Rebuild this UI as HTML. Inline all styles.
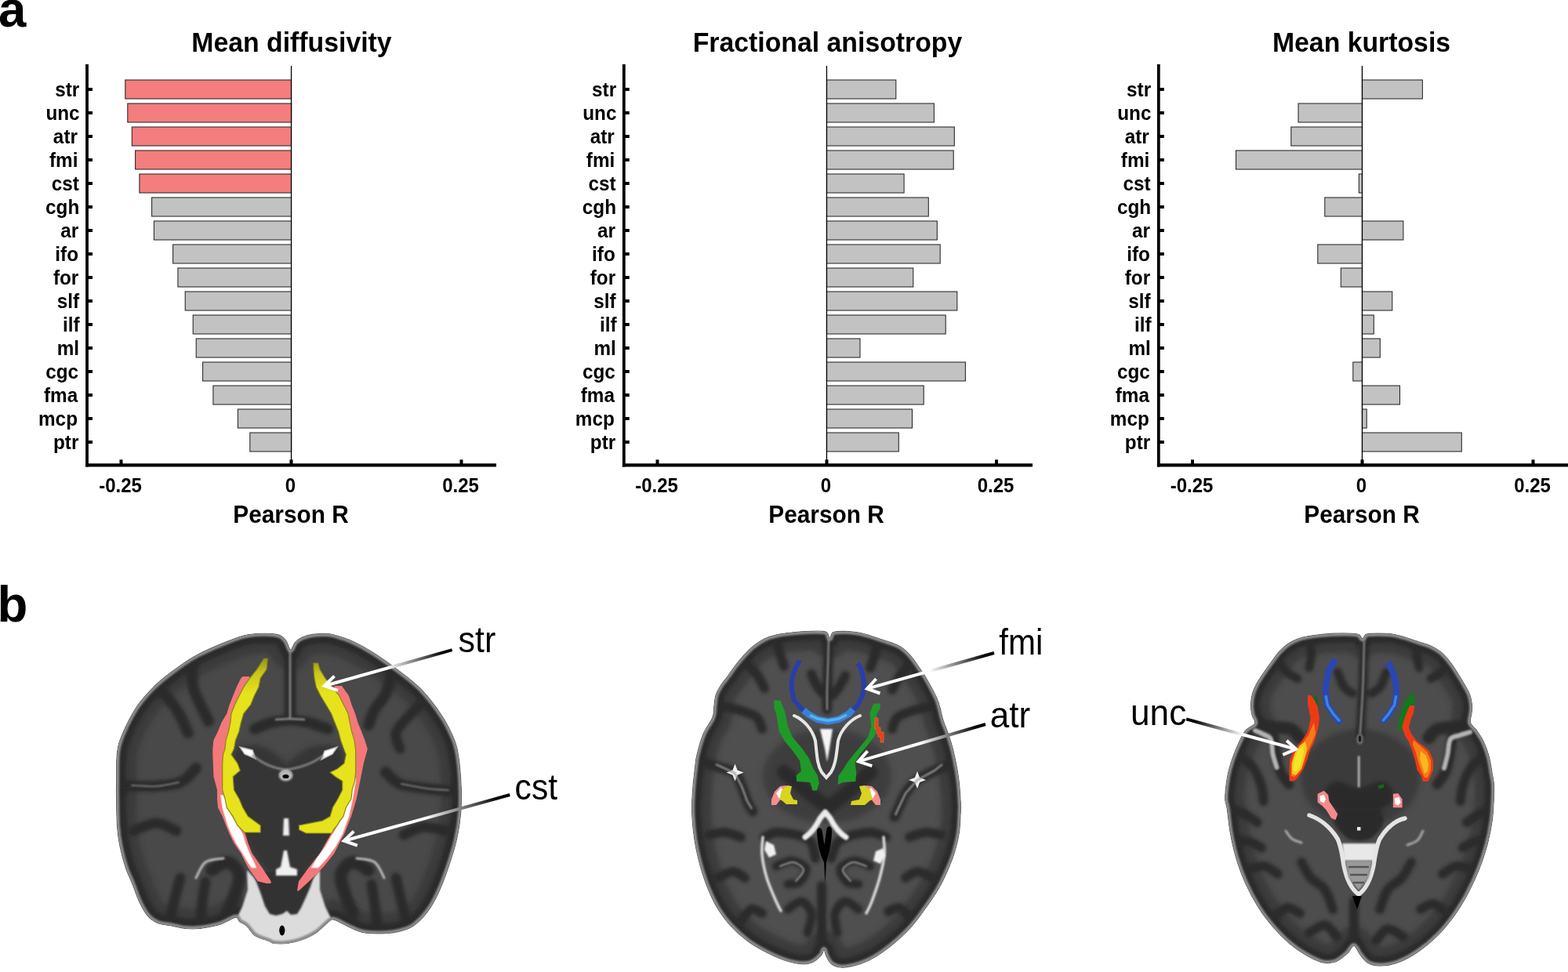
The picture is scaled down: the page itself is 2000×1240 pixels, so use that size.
<!DOCTYPE html>
<html lang="en"><head><meta charset="utf-8"><title>Figure</title>
<style>
html,body{margin:0;padding:0;background:#fff;}
body{width:2000px;height:1240px;overflow:hidden;position:relative;}
svg{position:absolute;left:0;top:0;display:block;}
text{font-family:"Liberation Sans",sans-serif;fill:#000;}
.yl{font-size:24.3px;font-weight:bold;text-anchor:middle;}
.xl{font-size:24px;font-weight:bold;text-anchor:middle;}
.ti{font-size:33.8px;font-weight:bold;text-anchor:middle;}
.pr{font-size:29.8px;font-weight:bold;text-anchor:middle;}
.pl{font-size:63.5px;font-weight:bold;}
.an{font-size:44px;}
</style></head>
<body>
<svg width="2000" height="1240" viewBox="0 0 2000 1240" role="img" aria-label="Figure">
<defs>
<filter id="b1" x="-20%" y="-20%" width="140%" height="140%"><feGaussianBlur stdDeviation="1"/></filter>
<filter id="b2" x="-20%" y="-20%" width="140%" height="140%"><feGaussianBlur stdDeviation="2"/></filter>
<filter id="b3" x="-30%" y="-30%" width="160%" height="160%"><feGaussianBlur stdDeviation="3.5"/></filter>
<linearGradient id="yg" gradientUnits="userSpaceOnUse" x1="0" y1="838" x2="0" y2="884"><stop offset="0" stop-color="#8e8c16"/><stop offset="0.45" stop-color="#c9c61a"/><stop offset="1" stop-color="#e6e21c"/></linearGradient>
<filter id="b05" x="-20%" y="-20%" width="140%" height="140%"><feGaussianBlur stdDeviation="0.6"/></filter>
<linearGradient id="ag1" gradientUnits="userSpaceOnUse" x1="576.7" y1="829.1" x2="410.3" y2="876.0"><stop offset="0" stop-color="#000"/><stop offset="0.08" stop-color="#080808"/><stop offset="0.29" stop-color="#808080"/><stop offset="0.5" stop-color="#fff"/><stop offset="1" stop-color="#fff"/></linearGradient>
<linearGradient id="ag2" gradientUnits="userSpaceOnUse" x1="650.3" y1="1014.0" x2="435.2" y2="1073.7"><stop offset="0" stop-color="#000"/><stop offset="0.08" stop-color="#080808"/><stop offset="0.29" stop-color="#808080"/><stop offset="0.5" stop-color="#fff"/><stop offset="1" stop-color="#fff"/></linearGradient>
<clipPath id="clip1"><path d="M370.5 829.0C372.6 829.5 374.1 821.9 376.6 819.3C379.1 816.6 381.6 814.8 385.5 813.1C389.4 811.4 394.4 810.0 399.7 809.2C405.0 808.5 412.4 808.3 417.4 808.6C422.4 808.9 424.5 809.4 429.8 811.0C435.1 812.6 442.0 814.6 449.4 818.0C456.8 821.4 465.0 825.8 474.2 831.5C483.4 837.2 494.0 844.7 504.4 852.5C514.8 860.3 526.4 868.4 536.3 878.5C546.1 888.6 556.3 902.1 563.5 913.0C570.7 923.9 575.9 934.9 579.5 944.0C583.1 953.1 583.7 958.1 585.1 967.4C586.5 976.7 587.5 988.6 588.0 1000.0C588.5 1011.4 588.7 1023.7 587.8 1035.5C586.9 1047.3 585.1 1059.2 582.4 1071.0C579.7 1082.8 575.6 1095.3 571.8 1106.5C568.0 1117.7 563.8 1129.0 559.4 1138.4C555.0 1147.9 550.5 1156.1 545.2 1163.2C539.9 1170.3 533.3 1176.8 527.4 1181.0C521.5 1185.2 515.6 1186.5 509.7 1188.1C503.8 1189.7 499.3 1190.4 491.9 1190.7C484.5 1191.0 472.4 1190.9 465.3 1189.9C458.2 1188.9 454.4 1186.6 449.4 1184.5C444.4 1182.4 439.3 1179.3 435.2 1177.4C431.1 1175.5 427.5 1173.0 424.5 1173.0C421.5 1173.0 420.9 1174.6 417.4 1177.4C413.8 1180.2 408.5 1186.4 403.2 1189.9C397.9 1193.5 391.4 1196.5 385.5 1198.7C379.6 1200.9 373.6 1202.4 367.7 1203.2C361.8 1204.0 354.1 1204.0 350.0 1203.5C345.9 1203.0 347.0 1202.2 342.9 1200.5C338.8 1198.8 329.9 1196.7 325.2 1193.4C320.5 1190.2 317.8 1184.0 314.5 1181.0C311.2 1178.0 308.1 1177.5 305.7 1175.7C303.3 1173.9 304.4 1169.7 300.3 1170.3C296.2 1170.9 288.5 1176.8 280.8 1179.2C273.1 1181.6 261.6 1183.6 254.2 1184.5C246.8 1185.4 242.4 1185.1 236.5 1184.5C230.6 1183.9 224.6 1182.2 218.7 1181.0C212.8 1179.8 206.0 1179.5 201.0 1177.4C196.0 1175.3 192.4 1173.0 188.6 1168.6C184.8 1164.2 181.2 1157.6 177.9 1150.8C174.6 1144.0 171.9 1135.2 169.0 1127.8C166.1 1120.4 162.8 1114.5 160.2 1106.5C157.5 1098.5 154.9 1088.7 153.1 1079.8C151.3 1070.9 150.2 1063.5 149.5 1053.2C148.8 1042.9 148.8 1026.6 148.6 1017.7C148.4 1008.8 148.4 1009.6 148.6 1000.0C148.8 990.4 148.2 971.0 149.5 960.3C150.8 949.5 152.4 945.2 156.6 935.5C160.8 925.8 167.9 911.6 174.4 901.8C180.9 892.0 188.8 883.8 195.6 876.9C202.4 870.0 206.6 866.6 215.2 860.1C223.8 853.6 234.7 844.9 247.1 837.9C259.5 830.9 277.9 823.1 289.7 818.4C301.5 813.7 307.8 811.0 318.1 809.5C328.5 808.0 344.1 808.0 351.8 809.2C359.5 810.4 361.1 813.3 364.2 816.6C367.3 819.9 368.4 828.5 370.5 829.0Z"/></clipPath>
<linearGradient id="ag3" gradientUnits="userSpaceOnUse" x1="1268.0" y1="833.0" x2="1102.5" y2="879.7"><stop offset="0" stop-color="#000"/><stop offset="0.08" stop-color="#080808"/><stop offset="0.29" stop-color="#808080"/><stop offset="0.5" stop-color="#fff"/><stop offset="1" stop-color="#fff"/></linearGradient>
<linearGradient id="ag4" gradientUnits="userSpaceOnUse" x1="1257.0" y1="924.0" x2="1091.4" y2="972.4"><stop offset="0" stop-color="#000"/><stop offset="0.08" stop-color="#080808"/><stop offset="0.29" stop-color="#808080"/><stop offset="0.5" stop-color="#fff"/><stop offset="1" stop-color="#fff"/></linearGradient>
<clipPath id="clip2"><path d="M1058.3 814.5C1060.0 814.6 1059.4 808.0 1063.0 806.5C1066.6 805.0 1074.7 805.4 1080.0 805.5C1085.3 805.6 1090.0 806.1 1095.0 807.0C1100.0 807.9 1105.0 809.5 1110.0 811.0C1115.0 812.5 1120.0 814.3 1125.0 816.0C1130.0 817.7 1135.8 819.3 1140.0 821.0C1144.2 822.7 1146.7 823.7 1150.0 826.0C1153.3 828.3 1156.7 831.3 1160.0 835.0C1163.3 838.7 1166.7 843.3 1170.0 848.0C1173.3 852.7 1177.0 858.2 1180.0 863.0C1183.0 867.8 1185.5 872.3 1188.0 877.0C1190.5 881.7 1193.2 886.7 1195.0 891.0C1196.8 895.3 1197.7 898.3 1199.0 903.0C1200.3 907.7 1201.2 913.2 1203.0 919.0C1204.8 924.8 1208.0 931.6 1210.1 938.0C1212.2 944.4 1214.0 950.2 1215.8 957.2C1217.5 964.2 1219.3 973.0 1220.6 980.0C1221.9 987.0 1222.6 991.5 1223.4 999.0C1224.2 1006.5 1225.0 1019.2 1225.3 1025.0C1225.6 1030.8 1225.6 1027.3 1225.3 1033.5C1225.0 1039.7 1224.7 1053.1 1223.4 1062.0C1222.1 1070.9 1220.2 1078.5 1217.7 1086.7C1215.2 1094.9 1211.7 1103.5 1208.2 1111.4C1204.7 1119.3 1201.2 1126.6 1196.8 1134.2C1192.4 1141.8 1187.0 1149.4 1181.6 1157.0C1176.2 1164.6 1170.5 1172.8 1164.5 1179.8C1158.5 1186.8 1151.8 1193.1 1145.5 1198.8C1139.2 1204.5 1132.8 1209.6 1126.5 1214.0C1120.2 1218.4 1113.8 1222.4 1107.5 1225.4C1101.2 1228.4 1094.5 1230.7 1088.5 1232.1C1082.5 1233.5 1076.2 1234.5 1071.4 1234.0C1066.7 1233.5 1062.9 1231.6 1060.0 1229.2C1057.1 1226.8 1055.5 1222.7 1054.0 1219.7C1052.5 1216.8 1052.1 1211.7 1051.0 1211.5C1049.9 1211.3 1050.1 1215.8 1047.5 1218.5C1044.9 1221.2 1040.2 1226.2 1035.5 1228.0C1030.8 1229.8 1025.8 1230.2 1019.6 1229.5C1013.4 1228.8 1005.6 1226.8 998.0 1224.0C990.4 1221.2 981.5 1217.0 974.0 1213.0C966.5 1209.0 960.0 1205.3 953.0 1200.0C946.0 1194.7 938.2 1187.7 932.0 1181.0C925.8 1174.3 920.7 1167.5 916.0 1160.0C911.3 1152.5 907.6 1144.4 904.0 1136.0C900.4 1127.6 897.3 1118.3 894.6 1109.5C891.9 1100.7 889.8 1091.9 888.0 1083.0C886.2 1074.1 884.9 1064.9 884.0 1056.0C883.1 1047.1 882.6 1038.5 882.6 1029.7C882.6 1020.9 883.3 1011.5 884.0 1003.0C884.7 994.5 885.8 985.7 886.6 979.0C887.4 972.3 887.3 970.1 889.0 963.0C890.7 955.9 893.7 944.6 897.0 936.6C900.3 928.6 906.7 921.1 909.0 915.0C911.3 908.9 910.3 904.7 911.0 900.0C911.7 895.3 911.7 891.2 913.0 887.0C914.3 882.8 916.5 879.0 919.0 875.0C921.5 871.0 924.8 867.3 928.0 863.0C931.2 858.7 934.7 853.3 938.0 849.0C941.3 844.7 944.3 841.0 948.0 837.0C951.7 833.0 955.5 828.7 960.0 825.0C964.5 821.3 970.0 817.5 975.0 815.0C980.0 812.5 984.2 811.3 990.0 810.0C995.8 808.7 1003.3 807.8 1010.0 807.0C1016.7 806.2 1022.8 805.7 1030.0 805.5C1037.2 805.3 1048.3 804.5 1053.0 806.0C1057.7 807.5 1056.6 814.4 1058.3 814.5Z"/></clipPath>
<radialGradient id="ug1" gradientUnits="userSpaceOnUse" cx="1655" cy="975" r="24" gradientTransform="translate(1655 975) rotate(20) scale(0.55 1) translate(-1655 -975)"><stop offset="0" stop-color="#f6ec20"/><stop offset="0.45" stop-color="#f8d020"/><stop offset="0.75" stop-color="#f88a18"/><stop offset="1" stop-color="#ee3a14"/></radialGradient>
<radialGradient id="ug2" gradientUnits="userSpaceOnUse" cx="1817" cy="978" r="20" gradientTransform="translate(1817 978) rotate(-20) scale(0.5 1) translate(-1817 -978)"><stop offset="0" stop-color="#fbd428"/><stop offset="0.5" stop-color="#f8941a"/><stop offset="1" stop-color="#ee3a14"/></radialGradient>
<linearGradient id="ag5" gradientUnits="userSpaceOnUse" x1="1513.1" y1="917.4" x2="1656.6" y2="956.6"><stop offset="0" stop-color="#000"/><stop offset="0.08" stop-color="#080808"/><stop offset="0.29" stop-color="#808080"/><stop offset="0.5" stop-color="#fff"/><stop offset="1" stop-color="#fff"/></linearGradient>
<clipPath id="clip3"><path d="M1738.2 815.0C1739.9 814.9 1739.4 810.1 1743.0 809.0C1746.6 807.9 1754.5 808.2 1760.0 808.2C1765.5 808.2 1770.7 808.2 1776.0 809.0C1781.3 809.8 1786.3 811.3 1792.0 813.0C1797.7 814.7 1804.5 817.2 1810.0 819.0C1815.5 820.8 1820.3 821.8 1825.0 824.0C1829.7 826.2 1833.8 828.5 1838.0 832.0C1842.2 835.5 1846.3 840.3 1850.0 845.0C1853.7 849.7 1856.8 855.0 1860.0 860.0C1863.2 865.0 1866.5 870.5 1869.0 875.0C1871.5 879.5 1873.6 882.8 1875.0 887.0C1876.4 891.2 1877.2 896.2 1877.5 900.0C1877.8 903.8 1877.3 906.3 1877.0 910.0C1876.7 913.7 1874.3 918.1 1875.5 922.0C1876.7 925.9 1881.6 929.0 1884.4 933.1C1887.2 937.2 1890.0 941.2 1892.5 946.6C1895.0 952.0 1897.5 958.8 1899.3 965.5C1901.1 972.3 1902.3 981.4 1903.3 987.1C1904.3 992.9 1905.1 995.1 1905.4 1000.0C1905.7 1004.9 1905.8 1009.1 1905.4 1016.8C1905.1 1024.5 1904.7 1036.0 1903.3 1046.2C1901.9 1056.4 1899.8 1067.2 1897.0 1077.7C1894.2 1088.2 1890.7 1098.7 1886.5 1109.2C1882.3 1119.7 1877.0 1130.9 1871.8 1140.7C1866.5 1150.5 1861.3 1159.2 1855.0 1168.0C1848.7 1176.8 1841.7 1185.5 1834.0 1193.2C1826.3 1200.9 1817.2 1208.4 1808.8 1214.2C1800.4 1220.0 1791.3 1224.8 1783.6 1227.8C1775.9 1230.8 1768.9 1231.8 1762.6 1232.0C1756.3 1232.2 1750.3 1231.2 1745.8 1228.9C1741.2 1226.6 1738.4 1222.1 1735.3 1218.4C1732.2 1214.7 1729.7 1206.8 1726.9 1206.5C1724.1 1206.2 1722.3 1212.9 1718.5 1216.3C1714.7 1219.7 1709.0 1224.9 1703.8 1226.8C1698.5 1228.7 1693.3 1229.2 1687.0 1227.8C1680.7 1226.4 1673.0 1222.4 1666.0 1218.4C1659.0 1214.4 1652.0 1209.7 1645.0 1203.7C1638.0 1197.8 1630.7 1190.4 1624.0 1182.7C1617.3 1175.0 1611.0 1167.0 1605.1 1157.5C1599.1 1148.0 1593.0 1136.5 1588.3 1126.0C1583.6 1115.5 1579.8 1105.0 1576.7 1094.5C1573.6 1084.0 1571.3 1073.5 1569.4 1063.0C1567.5 1052.5 1566.3 1038.7 1565.2 1031.5C1564.1 1024.3 1563.0 1025.2 1562.8 1020.0C1562.6 1014.8 1563.3 1006.8 1564.2 1000.0C1565.1 993.2 1566.3 986.5 1568.4 979.0C1570.5 971.5 1573.5 962.9 1576.8 955.2C1580.1 947.5 1584.0 938.2 1588.0 932.8C1592.0 927.4 1599.1 926.5 1600.6 923.0C1602.1 919.5 1597.8 915.8 1597.0 912.0C1596.2 908.2 1595.4 904.5 1595.5 900.0C1595.6 895.5 1596.2 889.7 1597.5 885.0C1598.8 880.3 1600.6 876.5 1603.0 872.0C1605.4 867.5 1608.8 862.7 1612.0 858.0C1615.2 853.3 1618.7 848.5 1622.0 844.0C1625.3 839.5 1628.2 835.0 1632.0 831.0C1635.8 827.0 1640.3 822.9 1645.0 820.0C1649.7 817.1 1654.2 815.2 1660.0 813.5C1665.8 811.8 1673.3 810.9 1680.0 810.0C1686.7 809.1 1693.3 808.5 1700.0 808.2C1706.7 807.9 1714.5 807.8 1720.0 808.0C1725.5 808.2 1730.0 808.3 1733.0 809.5C1736.0 810.7 1736.5 815.1 1738.2 815.0Z"/></clipPath>
</defs>
<text class="pl" transform="translate(-2.1 34.2) scale(1.000 1.030)">a</text>
<text class="pl" transform="translate(-3.4 793.4) scale(1.000 1.030)">b</text>
<g id="chart1">
<text class="ti" transform="translate(372.0 66.2) scale(1.000 1.040)">Mean diffusivity</text>
<rect x="159.8" y="102.0" width="211.7" height="24.0" fill="#f47d7d" stroke="#262626" stroke-width="1.05"/>
<rect x="111.0" y="112.0" width="7" height="4" fill="#000"/>
<text class="yl" transform="translate(85.8 122.7) scale(1.000 1.040)">str</text>
<rect x="162.8" y="132.0" width="208.8" height="24.0" fill="#f47d7d" stroke="#262626" stroke-width="1.05"/>
<rect x="111.0" y="142.0" width="7" height="4" fill="#000"/>
<text class="yl" transform="translate(80.0 152.7) scale(1.000 1.040)">unc</text>
<rect x="168.3" y="162.0" width="203.2" height="24.0" fill="#f47d7d" stroke="#262626" stroke-width="1.05"/>
<rect x="111.0" y="172.0" width="7" height="4" fill="#000"/>
<text class="yl" transform="translate(83.4 182.7) scale(1.000 1.040)">atr</text>
<rect x="172.6" y="192.0" width="198.9" height="24.0" fill="#f47d7d" stroke="#262626" stroke-width="1.05"/>
<rect x="111.0" y="202.0" width="7" height="4" fill="#000"/>
<text class="yl" transform="translate(81.2 212.7) scale(1.000 1.040)">fmi</text>
<rect x="177.9" y="222.0" width="193.6" height="24.0" fill="#f47d7d" stroke="#262626" stroke-width="1.05"/>
<rect x="111.0" y="232.0" width="7" height="4" fill="#000"/>
<text class="yl" transform="translate(83.3 242.7) scale(1.000 1.040)">cst</text>
<rect x="193.6" y="252.0" width="177.9" height="24.0" fill="#c2c2c2" stroke="#262626" stroke-width="1.05"/>
<rect x="111.0" y="262.0" width="7" height="4" fill="#000"/>
<text class="yl" transform="translate(79.7 272.7) scale(1.000 1.040)">cgh</text>
<rect x="196.4" y="282.0" width="175.1" height="24.0" fill="#c2c2c2" stroke="#262626" stroke-width="1.05"/>
<rect x="111.0" y="292.0" width="7" height="4" fill="#000"/>
<text class="yl" transform="translate(88.8 302.7) scale(1.000 1.040)">ar</text>
<rect x="220.6" y="312.0" width="150.9" height="24.0" fill="#c2c2c2" stroke="#262626" stroke-width="1.05"/>
<rect x="111.0" y="322.0" width="7" height="4" fill="#000"/>
<text class="yl" transform="translate(85.2 332.7) scale(1.000 1.040)">ifo</text>
<rect x="226.9" y="342.0" width="144.6" height="24.0" fill="#c2c2c2" stroke="#262626" stroke-width="1.05"/>
<rect x="111.0" y="352.0" width="7" height="4" fill="#000"/>
<text class="yl" transform="translate(84.1 362.7) scale(1.000 1.040)">for</text>
<rect x="236.2" y="372.0" width="135.3" height="24.0" fill="#c2c2c2" stroke="#262626" stroke-width="1.05"/>
<rect x="111.0" y="382.0" width="7" height="4" fill="#000"/>
<text class="yl" transform="translate(86.8 392.7) scale(1.000 1.040)">slf</text>
<rect x="246.2" y="402.0" width="125.2" height="24.0" fill="#c2c2c2" stroke="#262626" stroke-width="1.05"/>
<rect x="111.0" y="412.0" width="7" height="4" fill="#000"/>
<text class="yl" transform="translate(90.9 422.7) scale(1.000 1.040)">ilf</text>
<rect x="250.2" y="432.0" width="121.2" height="24.0" fill="#c2c2c2" stroke="#262626" stroke-width="1.05"/>
<rect x="111.0" y="442.0" width="7" height="4" fill="#000"/>
<text class="yl" transform="translate(86.8 452.7) scale(1.000 1.040)">ml</text>
<rect x="258.6" y="462.0" width="112.9" height="24.0" fill="#c2c2c2" stroke="#262626" stroke-width="1.05"/>
<rect x="111.0" y="472.0" width="7" height="4" fill="#000"/>
<text class="yl" transform="translate(79.1 482.7) scale(1.000 1.040)">cgc</text>
<rect x="271.9" y="492.0" width="99.6" height="24.0" fill="#c2c2c2" stroke="#262626" stroke-width="1.05"/>
<rect x="111.0" y="502.0" width="7" height="4" fill="#000"/>
<text class="yl" transform="translate(77.6 512.7) scale(1.000 1.040)">fma</text>
<rect x="303.4" y="522.0" width="68.1" height="24.0" fill="#c2c2c2" stroke="#262626" stroke-width="1.05"/>
<rect x="111.0" y="532.0" width="7" height="4" fill="#000"/>
<text class="yl" transform="translate(74.0 542.7) scale(1.000 1.040)">mcp</text>
<rect x="318.8" y="552.0" width="52.8" height="24.0" fill="#c2c2c2" stroke="#262626" stroke-width="1.05"/>
<rect x="111.0" y="562.0" width="7" height="4" fill="#000"/>
<text class="yl" transform="translate(84.2 572.7) scale(1.000 1.040)">ptr</text>
<rect x="370.9" y="84.0" width="1.3" height="509.4" fill="#000"/>
<rect x="109.1" y="82.0" width="3.8" height="513.5" fill="#000"/>
<rect x="109.1" y="591.3" width="523.9" height="4.2" fill="#000"/>
<rect x="152.5" y="586.4" width="4" height="7" fill="#000"/>
<text class="xl" transform="translate(153.5 627.7) scale(1.000 1.040)">-0.25</text>
<rect x="369.5" y="586.4" width="4" height="7" fill="#000"/>
<text class="xl" transform="translate(370.5 627.7) scale(1.000 1.040)">0</text>
<rect x="586.5" y="586.4" width="4" height="7" fill="#000"/>
<text class="xl" transform="translate(587.5 627.7) scale(1.000 1.040)">0.25</text>
<text class="pr" transform="translate(371.0 667.3) scale(1.000 1.040)">Pearson R</text>
</g>
<g id="chart2">
<text class="ti" transform="translate(1055.5 66.2) scale(1.000 1.040)">Fractional anisotropy</text>
<rect x="1054.5" y="102.0" width="88.3" height="24.0" fill="#c2c2c2" stroke="#262626" stroke-width="1.05"/>
<rect x="795.8" y="112.0" width="7" height="4" fill="#000"/>
<text class="yl" transform="translate(770.6 122.7) scale(1.000 1.040)">str</text>
<rect x="1054.5" y="132.0" width="136.9" height="24.0" fill="#c2c2c2" stroke="#262626" stroke-width="1.05"/>
<rect x="795.8" y="142.0" width="7" height="4" fill="#000"/>
<text class="yl" transform="translate(764.8 152.7) scale(1.000 1.040)">unc</text>
<rect x="1054.5" y="162.0" width="162.8" height="24.0" fill="#c2c2c2" stroke="#262626" stroke-width="1.05"/>
<rect x="795.8" y="172.0" width="7" height="4" fill="#000"/>
<text class="yl" transform="translate(768.2 182.7) scale(1.000 1.040)">atr</text>
<rect x="1054.5" y="192.0" width="161.7" height="24.0" fill="#c2c2c2" stroke="#262626" stroke-width="1.05"/>
<rect x="795.8" y="202.0" width="7" height="4" fill="#000"/>
<text class="yl" transform="translate(766.0 212.7) scale(1.000 1.040)">fmi</text>
<rect x="1054.5" y="222.0" width="98.6" height="24.0" fill="#c2c2c2" stroke="#262626" stroke-width="1.05"/>
<rect x="795.8" y="232.0" width="7" height="4" fill="#000"/>
<text class="yl" transform="translate(768.1 242.7) scale(1.000 1.040)">cst</text>
<rect x="1054.5" y="252.0" width="129.8" height="24.0" fill="#c2c2c2" stroke="#262626" stroke-width="1.05"/>
<rect x="795.8" y="262.0" width="7" height="4" fill="#000"/>
<text class="yl" transform="translate(764.4 272.7) scale(1.000 1.040)">cgh</text>
<rect x="1054.5" y="282.0" width="140.8" height="24.0" fill="#c2c2c2" stroke="#262626" stroke-width="1.05"/>
<rect x="795.8" y="292.0" width="7" height="4" fill="#000"/>
<text class="yl" transform="translate(773.6 302.7) scale(1.000 1.040)">ar</text>
<rect x="1054.5" y="312.0" width="144.7" height="24.0" fill="#c2c2c2" stroke="#262626" stroke-width="1.05"/>
<rect x="795.8" y="322.0" width="7" height="4" fill="#000"/>
<text class="yl" transform="translate(769.9 332.7) scale(1.000 1.040)">ifo</text>
<rect x="1054.5" y="342.0" width="110.3" height="24.0" fill="#c2c2c2" stroke="#262626" stroke-width="1.05"/>
<rect x="795.8" y="352.0" width="7" height="4" fill="#000"/>
<text class="yl" transform="translate(768.9 362.7) scale(1.000 1.040)">for</text>
<rect x="1054.5" y="372.0" width="166.3" height="24.0" fill="#c2c2c2" stroke="#262626" stroke-width="1.05"/>
<rect x="795.8" y="382.0" width="7" height="4" fill="#000"/>
<text class="yl" transform="translate(771.5 392.7) scale(1.000 1.040)">slf</text>
<rect x="1054.5" y="402.0" width="151.7" height="24.0" fill="#c2c2c2" stroke="#262626" stroke-width="1.05"/>
<rect x="795.8" y="412.0" width="7" height="4" fill="#000"/>
<text class="yl" transform="translate(775.7 422.7) scale(1.000 1.040)">ilf</text>
<rect x="1054.5" y="432.0" width="42.5" height="24.0" fill="#c2c2c2" stroke="#262626" stroke-width="1.05"/>
<rect x="795.8" y="442.0" width="7" height="4" fill="#000"/>
<text class="yl" transform="translate(771.6 452.7) scale(1.000 1.040)">ml</text>
<rect x="1054.5" y="462.0" width="176.9" height="24.0" fill="#c2c2c2" stroke="#262626" stroke-width="1.05"/>
<rect x="795.8" y="472.0" width="7" height="4" fill="#000"/>
<text class="yl" transform="translate(763.9 482.7) scale(1.000 1.040)">cgc</text>
<rect x="1054.5" y="492.0" width="123.7" height="24.0" fill="#c2c2c2" stroke="#262626" stroke-width="1.05"/>
<rect x="795.8" y="502.0" width="7" height="4" fill="#000"/>
<text class="yl" transform="translate(762.3 512.7) scale(1.000 1.040)">fma</text>
<rect x="1054.5" y="522.0" width="109.0" height="24.0" fill="#c2c2c2" stroke="#262626" stroke-width="1.05"/>
<rect x="795.8" y="532.0" width="7" height="4" fill="#000"/>
<text class="yl" transform="translate(758.8 542.7) scale(1.000 1.040)">mcp</text>
<rect x="1054.5" y="552.0" width="91.8" height="24.0" fill="#c2c2c2" stroke="#262626" stroke-width="1.05"/>
<rect x="795.8" y="562.0" width="7" height="4" fill="#000"/>
<text class="yl" transform="translate(769.0 572.7) scale(1.000 1.040)">ptr</text>
<rect x="1053.8" y="84.0" width="1.3" height="509.4" fill="#000"/>
<rect x="793.9" y="82.0" width="3.8" height="513.5" fill="#000"/>
<rect x="793.9" y="591.3" width="523.1" height="4.2" fill="#000"/>
<rect x="836.5" y="586.4" width="4" height="7" fill="#000"/>
<text class="xl" transform="translate(837.5 627.7) scale(1.000 1.040)">-0.25</text>
<rect x="1052.5" y="586.4" width="4" height="7" fill="#000"/>
<text class="xl" transform="translate(1053.5 627.7) scale(1.000 1.040)">0</text>
<rect x="1269.0" y="586.4" width="4" height="7" fill="#000"/>
<text class="xl" transform="translate(1270.0 627.7) scale(1.000 1.040)">0.25</text>
<text class="pr" transform="translate(1054.0 667.3) scale(1.000 1.040)">Pearson R</text>
</g>
<g id="chart3">
<text class="ti" transform="translate(1736.5 66.2) scale(1.000 1.040)">Mean kurtosis</text>
<rect x="1737.5" y="102.0" width="76.9" height="24.0" fill="#c2c2c2" stroke="#262626" stroke-width="1.05"/>
<rect x="1477.8" y="112.0" width="7" height="4" fill="#000"/>
<text class="yl" transform="translate(1452.6 122.7) scale(1.000 1.040)">str</text>
<rect x="1656.0" y="132.0" width="81.5" height="24.0" fill="#c2c2c2" stroke="#262626" stroke-width="1.05"/>
<rect x="1477.8" y="142.0" width="7" height="4" fill="#000"/>
<text class="yl" transform="translate(1446.8 152.7) scale(1.000 1.040)">unc</text>
<rect x="1646.8" y="162.0" width="90.7" height="24.0" fill="#c2c2c2" stroke="#262626" stroke-width="1.05"/>
<rect x="1477.8" y="172.0" width="7" height="4" fill="#000"/>
<text class="yl" transform="translate(1450.2 182.7) scale(1.000 1.040)">atr</text>
<rect x="1576.5" y="192.0" width="161.0" height="24.0" fill="#c2c2c2" stroke="#262626" stroke-width="1.05"/>
<rect x="1477.8" y="202.0" width="7" height="4" fill="#000"/>
<text class="yl" transform="translate(1448.0 212.7) scale(1.000 1.040)">fmi</text>
<rect x="1733.3" y="222.0" width="4.2" height="24.0" fill="#c2c2c2" stroke="#262626" stroke-width="1.05"/>
<rect x="1477.8" y="232.0" width="7" height="4" fill="#000"/>
<text class="yl" transform="translate(1450.1 242.7) scale(1.000 1.040)">cst</text>
<rect x="1689.8" y="252.0" width="47.8" height="24.0" fill="#c2c2c2" stroke="#262626" stroke-width="1.05"/>
<rect x="1477.8" y="262.0" width="7" height="4" fill="#000"/>
<text class="yl" transform="translate(1446.5 272.7) scale(1.000 1.040)">cgh</text>
<rect x="1737.5" y="282.0" width="52.4" height="24.0" fill="#c2c2c2" stroke="#262626" stroke-width="1.05"/>
<rect x="1477.8" y="292.0" width="7" height="4" fill="#000"/>
<text class="yl" transform="translate(1455.6 302.7) scale(1.000 1.040)">ar</text>
<rect x="1680.8" y="312.0" width="56.7" height="24.0" fill="#c2c2c2" stroke="#262626" stroke-width="1.05"/>
<rect x="1477.8" y="322.0" width="7" height="4" fill="#000"/>
<text class="yl" transform="translate(1452.0 332.7) scale(1.000 1.040)">ifo</text>
<rect x="1710.3" y="342.0" width="27.2" height="24.0" fill="#c2c2c2" stroke="#262626" stroke-width="1.05"/>
<rect x="1477.8" y="352.0" width="7" height="4" fill="#000"/>
<text class="yl" transform="translate(1450.9 362.7) scale(1.000 1.040)">for</text>
<rect x="1737.5" y="372.0" width="38.3" height="24.0" fill="#c2c2c2" stroke="#262626" stroke-width="1.05"/>
<rect x="1477.8" y="382.0" width="7" height="4" fill="#000"/>
<text class="yl" transform="translate(1453.5 392.7) scale(1.000 1.040)">slf</text>
<rect x="1737.5" y="402.0" width="14.8" height="24.0" fill="#c2c2c2" stroke="#262626" stroke-width="1.05"/>
<rect x="1477.8" y="412.0" width="7" height="4" fill="#000"/>
<text class="yl" transform="translate(1457.7 422.7) scale(1.000 1.040)">ilf</text>
<rect x="1737.5" y="432.0" width="22.8" height="24.0" fill="#c2c2c2" stroke="#262626" stroke-width="1.05"/>
<rect x="1477.8" y="442.0" width="7" height="4" fill="#000"/>
<text class="yl" transform="translate(1453.6 452.7) scale(1.000 1.040)">ml</text>
<rect x="1725.8" y="462.0" width="11.7" height="24.0" fill="#c2c2c2" stroke="#262626" stroke-width="1.05"/>
<rect x="1477.8" y="472.0" width="7" height="4" fill="#000"/>
<text class="yl" transform="translate(1445.9 482.7) scale(1.000 1.040)">cgc</text>
<rect x="1737.5" y="492.0" width="48.0" height="24.0" fill="#c2c2c2" stroke="#262626" stroke-width="1.05"/>
<rect x="1477.8" y="502.0" width="7" height="4" fill="#000"/>
<text class="yl" transform="translate(1444.3 512.7) scale(1.000 1.040)">fma</text>
<rect x="1737.5" y="522.0" width="5.7" height="24.0" fill="#c2c2c2" stroke="#262626" stroke-width="1.05"/>
<rect x="1477.8" y="532.0" width="7" height="4" fill="#000"/>
<text class="yl" transform="translate(1440.8 542.7) scale(1.000 1.040)">mcp</text>
<rect x="1737.5" y="552.0" width="126.8" height="24.0" fill="#c2c2c2" stroke="#262626" stroke-width="1.05"/>
<rect x="1477.8" y="562.0" width="7" height="4" fill="#000"/>
<text class="yl" transform="translate(1451.0 572.7) scale(1.000 1.040)">ptr</text>
<rect x="1736.8" y="84.0" width="1.3" height="509.4" fill="#000"/>
<rect x="1475.9" y="82.0" width="3.8" height="513.5" fill="#000"/>
<rect x="1475.9" y="591.3" width="524.1" height="4.2" fill="#000"/>
<rect x="1519.0" y="586.4" width="4" height="7" fill="#000"/>
<text class="xl" transform="translate(1520.0 627.7) scale(1.000 1.040)">-0.25</text>
<rect x="1735.5" y="586.4" width="4" height="7" fill="#000"/>
<text class="xl" transform="translate(1736.5 627.7) scale(1.000 1.040)">0</text>
<rect x="1953.5" y="586.4" width="4" height="7" fill="#000"/>
<text class="xl" transform="translate(1954.5 627.7) scale(1.000 1.040)">0.25</text>
<text class="pr" transform="translate(1737.0 667.3) scale(1.000 1.040)">Pearson R</text>
</g>
<g id="brain1">
<path d="M370.5 829.0C372.6 829.5 374.1 821.9 376.6 819.3C379.1 816.6 381.6 814.8 385.5 813.1C389.4 811.4 394.4 810.0 399.7 809.2C405.0 808.5 412.4 808.3 417.4 808.6C422.4 808.9 424.5 809.4 429.8 811.0C435.1 812.6 442.0 814.6 449.4 818.0C456.8 821.4 465.0 825.8 474.2 831.5C483.4 837.2 494.0 844.7 504.4 852.5C514.8 860.3 526.4 868.4 536.3 878.5C546.1 888.6 556.3 902.1 563.5 913.0C570.7 923.9 575.9 934.9 579.5 944.0C583.1 953.1 583.7 958.1 585.1 967.4C586.5 976.7 587.5 988.6 588.0 1000.0C588.5 1011.4 588.7 1023.7 587.8 1035.5C586.9 1047.3 585.1 1059.2 582.4 1071.0C579.7 1082.8 575.6 1095.3 571.8 1106.5C568.0 1117.7 563.8 1129.0 559.4 1138.4C555.0 1147.9 550.5 1156.1 545.2 1163.2C539.9 1170.3 533.3 1176.8 527.4 1181.0C521.5 1185.2 515.6 1186.5 509.7 1188.1C503.8 1189.7 499.3 1190.4 491.9 1190.7C484.5 1191.0 472.4 1190.9 465.3 1189.9C458.2 1188.9 454.4 1186.6 449.4 1184.5C444.4 1182.4 439.3 1179.3 435.2 1177.4C431.1 1175.5 427.5 1173.0 424.5 1173.0C421.5 1173.0 420.9 1174.6 417.4 1177.4C413.8 1180.2 408.5 1186.4 403.2 1189.9C397.9 1193.5 391.4 1196.5 385.5 1198.7C379.6 1200.9 373.6 1202.4 367.7 1203.2C361.8 1204.0 354.1 1204.0 350.0 1203.5C345.9 1203.0 347.0 1202.2 342.9 1200.5C338.8 1198.8 329.9 1196.7 325.2 1193.4C320.5 1190.2 317.8 1184.0 314.5 1181.0C311.2 1178.0 308.1 1177.5 305.7 1175.7C303.3 1173.9 304.4 1169.7 300.3 1170.3C296.2 1170.9 288.5 1176.8 280.8 1179.2C273.1 1181.6 261.6 1183.6 254.2 1184.5C246.8 1185.4 242.4 1185.1 236.5 1184.5C230.6 1183.9 224.6 1182.2 218.7 1181.0C212.8 1179.8 206.0 1179.5 201.0 1177.4C196.0 1175.3 192.4 1173.0 188.6 1168.6C184.8 1164.2 181.2 1157.6 177.9 1150.8C174.6 1144.0 171.9 1135.2 169.0 1127.8C166.1 1120.4 162.8 1114.5 160.2 1106.5C157.5 1098.5 154.9 1088.7 153.1 1079.8C151.3 1070.9 150.2 1063.5 149.5 1053.2C148.8 1042.9 148.8 1026.6 148.6 1017.7C148.4 1008.8 148.4 1009.6 148.6 1000.0C148.8 990.4 148.2 971.0 149.5 960.3C150.8 949.5 152.4 945.2 156.6 935.5C160.8 925.8 167.9 911.6 174.4 901.8C180.9 892.0 188.8 883.8 195.6 876.9C202.4 870.0 206.6 866.6 215.2 860.1C223.8 853.6 234.7 844.9 247.1 837.9C259.5 830.9 277.9 823.1 289.7 818.4C301.5 813.7 307.8 811.0 318.1 809.5C328.5 808.0 344.1 808.0 351.8 809.2C359.5 810.4 361.1 813.3 364.2 816.6C367.3 819.9 368.4 828.5 370.5 829.0Z" fill="#494949" stroke="#777" stroke-width="1.2" filter="url(#b05)"/>
<g clip-path="url(#clip1)">
<path d="M300 955 C320 945 345 950 366 975 C388 950 412 945 436 955 C446 990 442 1040 420 1075 C405 1100 385 1120 366 1128 C345 1120 328 1100 314 1075 C292 1040 290 990 300 955 Z" fill="#343434" filter="url(#b3)"/>
<path d="M370.5 829.0C372.6 829.5 374.1 821.9 376.6 819.3C379.1 816.6 381.6 814.8 385.5 813.1C389.4 811.4 394.4 810.0 399.7 809.2C405.0 808.5 412.4 808.3 417.4 808.6C422.4 808.9 424.5 809.4 429.8 811.0C435.1 812.6 442.0 814.6 449.4 818.0C456.8 821.4 465.0 825.8 474.2 831.5C483.4 837.2 494.0 844.7 504.4 852.5C514.8 860.3 526.4 868.4 536.3 878.5C546.1 888.6 556.3 902.1 563.5 913.0C570.7 923.9 575.9 934.9 579.5 944.0C583.1 953.1 583.7 958.1 585.1 967.4C586.5 976.7 587.5 988.6 588.0 1000.0C588.5 1011.4 588.7 1023.7 587.8 1035.5C586.9 1047.3 585.1 1059.2 582.4 1071.0C579.7 1082.8 575.6 1095.3 571.8 1106.5C568.0 1117.7 563.8 1129.0 559.4 1138.4C555.0 1147.9 550.5 1156.1 545.2 1163.2C539.9 1170.3 533.3 1176.8 527.4 1181.0C521.5 1185.2 515.6 1186.5 509.7 1188.1C503.8 1189.7 499.3 1190.4 491.9 1190.7C484.5 1191.0 472.4 1190.9 465.3 1189.9C458.2 1188.9 454.4 1186.6 449.4 1184.5C444.4 1182.4 439.3 1179.3 435.2 1177.4C431.1 1175.5 427.5 1173.0 424.5 1173.0C421.5 1173.0 420.9 1174.6 417.4 1177.4C413.8 1180.2 408.5 1186.4 403.2 1189.9C397.9 1193.5 391.4 1196.5 385.5 1198.7C379.6 1200.9 373.6 1202.4 367.7 1203.2C361.8 1204.0 354.1 1204.0 350.0 1203.5C345.9 1203.0 347.0 1202.2 342.9 1200.5C338.8 1198.8 329.9 1196.7 325.2 1193.4C320.5 1190.2 317.8 1184.0 314.5 1181.0C311.2 1178.0 308.1 1177.5 305.7 1175.7C303.3 1173.9 304.4 1169.7 300.3 1170.3C296.2 1170.9 288.5 1176.8 280.8 1179.2C273.1 1181.6 261.6 1183.6 254.2 1184.5C246.8 1185.4 242.4 1185.1 236.5 1184.5C230.6 1183.9 224.6 1182.2 218.7 1181.0C212.8 1179.8 206.0 1179.5 201.0 1177.4C196.0 1175.3 192.4 1173.0 188.6 1168.6C184.8 1164.2 181.2 1157.6 177.9 1150.8C174.6 1144.0 171.9 1135.2 169.0 1127.8C166.1 1120.4 162.8 1114.5 160.2 1106.5C157.5 1098.5 154.9 1088.7 153.1 1079.8C151.3 1070.9 150.2 1063.5 149.5 1053.2C148.8 1042.9 148.8 1026.6 148.6 1017.7C148.4 1008.8 148.4 1009.6 148.6 1000.0C148.8 990.4 148.2 971.0 149.5 960.3C150.8 949.5 152.4 945.2 156.6 935.5C160.8 925.8 167.9 911.6 174.4 901.8C180.9 892.0 188.8 883.8 195.6 876.9C202.4 870.0 206.6 866.6 215.2 860.1C223.8 853.6 234.7 844.9 247.1 837.9C259.5 830.9 277.9 823.1 289.7 818.4C301.5 813.7 307.8 811.0 318.1 809.5C328.5 808.0 344.1 808.0 351.8 809.2C359.5 810.4 361.1 813.3 364.2 816.6C367.3 819.9 368.4 828.5 370.5 829.0Z" fill="none" stroke="#3a3a3a" stroke-width="51" stroke-linejoin="round" filter="url(#b3)"/>
<path d="M370.5 829.0C372.6 829.5 374.1 821.9 376.6 819.3C379.1 816.6 381.6 814.8 385.5 813.1C389.4 811.4 394.4 810.0 399.7 809.2C405.0 808.5 412.4 808.3 417.4 808.6C422.4 808.9 424.5 809.4 429.8 811.0C435.1 812.6 442.0 814.6 449.4 818.0C456.8 821.4 465.0 825.8 474.2 831.5C483.4 837.2 494.0 844.7 504.4 852.5C514.8 860.3 526.4 868.4 536.3 878.5C546.1 888.6 556.3 902.1 563.5 913.0C570.7 923.9 575.9 934.9 579.5 944.0C583.1 953.1 583.7 958.1 585.1 967.4C586.5 976.7 587.5 988.6 588.0 1000.0C588.5 1011.4 588.7 1023.7 587.8 1035.5C586.9 1047.3 585.1 1059.2 582.4 1071.0C579.7 1082.8 575.6 1095.3 571.8 1106.5C568.0 1117.7 563.8 1129.0 559.4 1138.4C555.0 1147.9 550.5 1156.1 545.2 1163.2C539.9 1170.3 533.3 1176.8 527.4 1181.0C521.5 1185.2 515.6 1186.5 509.7 1188.1C503.8 1189.7 499.3 1190.4 491.9 1190.7C484.5 1191.0 472.4 1190.9 465.3 1189.9C458.2 1188.9 454.4 1186.6 449.4 1184.5C444.4 1182.4 439.3 1179.3 435.2 1177.4C431.1 1175.5 427.5 1173.0 424.5 1173.0C421.5 1173.0 420.9 1174.6 417.4 1177.4C413.8 1180.2 408.5 1186.4 403.2 1189.9C397.9 1193.5 391.4 1196.5 385.5 1198.7C379.6 1200.9 373.6 1202.4 367.7 1203.2C361.8 1204.0 354.1 1204.0 350.0 1203.5C345.9 1203.0 347.0 1202.2 342.9 1200.5C338.8 1198.8 329.9 1196.7 325.2 1193.4C320.5 1190.2 317.8 1184.0 314.5 1181.0C311.2 1178.0 308.1 1177.5 305.7 1175.7C303.3 1173.9 304.4 1169.7 300.3 1170.3C296.2 1170.9 288.5 1176.8 280.8 1179.2C273.1 1181.6 261.6 1183.6 254.2 1184.5C246.8 1185.4 242.4 1185.1 236.5 1184.5C230.6 1183.9 224.6 1182.2 218.7 1181.0C212.8 1179.8 206.0 1179.5 201.0 1177.4C196.0 1175.3 192.4 1173.0 188.6 1168.6C184.8 1164.2 181.2 1157.6 177.9 1150.8C174.6 1144.0 171.9 1135.2 169.0 1127.8C166.1 1120.4 162.8 1114.5 160.2 1106.5C157.5 1098.5 154.9 1088.7 153.1 1079.8C151.3 1070.9 150.2 1063.5 149.5 1053.2C148.8 1042.9 148.8 1026.6 148.6 1017.7C148.4 1008.8 148.4 1009.6 148.6 1000.0C148.8 990.4 148.2 971.0 149.5 960.3C150.8 949.5 152.4 945.2 156.6 935.5C160.8 925.8 167.9 911.6 174.4 901.8C180.9 892.0 188.8 883.8 195.6 876.9C202.4 870.0 206.6 866.6 215.2 860.1C223.8 853.6 234.7 844.9 247.1 837.9C259.5 830.9 277.9 823.1 289.7 818.4C301.5 813.7 307.8 811.0 318.1 809.5C328.5 808.0 344.1 808.0 351.8 809.2C359.5 810.4 361.1 813.3 364.2 816.6C367.3 819.9 368.4 828.5 370.5 829.0Z" fill="none" stroke="#2b2b2b" stroke-width="25" stroke-linejoin="round" filter="url(#b2)"/>
<g fill="none" stroke="#2b2b2b" stroke-linecap="round" stroke-linejoin="round" filter="url(#b2)">
<path d="M370.0 830.0C370.0 836.7 370.0 855.8 370.0 870.0C370.0 884.2 370.0 907.5 370.0 915.0" stroke-width="15.0"/>
<path d="M370.0 918.0C365.8 918.7 352.5 920.0 345.0 922.0C337.5 924.0 328.3 928.7 325.0 930.0" stroke-width="14.0"/>
<path d="M370.0 918.0C374.2 918.7 387.0 920.0 395.0 922.0C403.0 924.0 414.2 928.7 418.0 930.0" stroke-width="14.0"/>
<path d="M245.0 845.0C245.2 850.0 244.2 865.8 246.0 875.0C247.8 884.2 252.7 892.5 256.0 900.0C259.3 907.5 264.3 916.7 266.0 920.0" stroke-width="14.0"/>
<path d="M500.0 858.0C498.7 862.5 495.7 877.2 492.0 885.0C488.3 892.8 481.7 898.3 478.0 905.0C474.3 911.7 471.3 921.7 470.0 925.0" stroke-width="14.0"/>
<path d="M205.0 880.0C208.3 884.2 219.2 895.8 225.0 905.0C230.8 914.2 237.5 930.0 240.0 935.0" stroke-width="14.0"/>
<path d="M540.0 895.0C536.7 898.3 525.8 908.3 520.0 915.0C514.2 921.7 506.7 928.3 505.0 935.0C503.3 941.7 509.2 951.7 510.0 955.0" stroke-width="13.0"/>
<path d="M155.0 1003.0C161.7 1003.0 182.5 1003.8 195.0 1003.0C207.5 1002.2 220.8 1001.8 230.0 998.0C239.2 994.2 246.7 983.0 250.0 980.0" stroke-width="14.0"/>
<path d="M585.0 1010.0C578.3 1009.3 557.5 1007.7 545.0 1006.0C532.5 1004.3 518.8 1003.5 510.0 1000.0C501.2 996.5 495.0 987.5 492.0 985.0" stroke-width="14.0"/>
<path d="M170.0 1060.0C175.0 1058.3 190.8 1050.0 200.0 1050.0C209.2 1050.0 220.8 1058.3 225.0 1060.0" stroke-width="13.0"/>
<path d="M570.0 1060.0C565.0 1059.2 549.2 1054.2 540.0 1055.0C530.8 1055.8 519.2 1063.3 515.0 1065.0" stroke-width="13.0"/>
<path d="M215.0 1180.0C216.2 1175.0 219.5 1160.0 222.0 1150.0C224.5 1140.0 228.7 1125.0 230.0 1120.0" stroke-width="13.0"/>
<path d="M255.0 1183.0C255.5 1177.5 256.8 1159.7 258.0 1150.0C259.2 1140.3 261.3 1129.2 262.0 1125.0" stroke-width="13.0"/>
<path d="M520.0 1183.0C518.7 1177.5 514.5 1160.5 512.0 1150.0C509.5 1139.5 506.2 1125.0 505.0 1120.0" stroke-width="13.0"/>
<path d="M482.0 1188.0C481.3 1182.5 479.3 1165.0 478.0 1155.0C476.7 1145.0 474.7 1132.5 474.0 1128.0" stroke-width="13.0"/>
<path d="M270.0 1110.0C273.3 1108.3 284.2 1099.2 290.0 1100.0C295.8 1100.8 303.3 1108.3 305.0 1115.0C306.7 1121.7 302.5 1131.7 300.0 1140.0C297.5 1148.3 291.7 1160.8 290.0 1165.0" stroke-width="16.0"/>
<path d="M470.0 1110.0C466.7 1108.3 455.8 1099.2 450.0 1100.0C444.2 1100.8 436.7 1108.3 435.0 1115.0C433.3 1121.7 437.5 1131.7 440.0 1140.0C442.5 1148.3 448.3 1160.8 450.0 1165.0" stroke-width="16.0"/>
<path d="M365.0 1140.0C365.0 1144.2 365.0 1160.8 365.0 1165.0" stroke-width="30.0"/>
</g>
<g fill="none" stroke-linecap="round" stroke-linejoin="round" filter="url(#b1)">
<path d="M370.0 829.0C370.0 835.8 370.0 855.3 370.0 870.0C370.0 884.7 370.0 909.2 370.0 917.0" stroke="#8a8a8a" stroke-width="2.5"/>
<path d="M352.0 918.0C355.0 917.8 364.0 917.0 370.0 917.0C376.0 917.0 385.0 917.8 388.0 918.0" stroke="#8a8a8a" stroke-width="2.5"/>
<path d="M168.0 1002.0C173.3 1002.2 190.0 1003.7 200.0 1003.0C210.0 1002.3 223.3 998.8 228.0 998.0" stroke="#777" stroke-width="2.0"/>
<path d="M572.0 1008.0C567.5 1007.7 555.0 1007.3 545.0 1006.0C535.0 1004.7 517.5 1001.0 512.0 1000.0" stroke="#777" stroke-width="2.0"/>
<path d="M250.0 1120.0C252.0 1116.7 256.2 1104.2 262.0 1100.0C267.8 1095.8 281.2 1095.8 285.0 1095.0" stroke="#bbb" stroke-width="3.0"/>
<path d="M490.0 1120.0C488.0 1116.7 483.8 1104.2 478.0 1100.0C472.2 1095.8 458.8 1095.8 455.0 1095.0" stroke="#bbb" stroke-width="3.0"/>
</g>
<path d="M315 1110 L316 1135 L309 1157 L302 1171 L312 1180 L324 1196 L341 1204 L357 1208 L379 1204 L396 1197 L410 1184 L423 1173 L415 1157 L408 1135 L408 1110 L395 1126 L330 1126 Z" fill="#dcdcdc" filter="url(#b1)"/>
<path d="M322 1112 L402 1112 L396 1131 L390 1145 L384 1158 L379 1166 L371 1167 L366 1162 L360 1166 L352 1168 L344 1166 L338 1156 L333 1141 Z" fill="#303030" filter="url(#b1)"/>
<ellipse cx="359.8" cy="1187" rx="3.6" ry="6.5" fill="#000" filter="url(#b05)"/>
<path d="M306 953 L322 957 L326 968 L312 962 Z" fill="#fff" filter="url(#b05)" stroke="#bbb" stroke-width="1.5"/>
<path d="M430 953 L414 958 L410 969 L424 962 Z" fill="#fff" filter="url(#b05)" stroke="#bbb" stroke-width="1.5"/>
<path d="M322 963 C335 975 350 980 364 982 C380 980 398 975 412 964" fill="none" stroke="#888" stroke-width="2.5" filter="url(#b1)"/>
<ellipse cx="364.5" cy="989" rx="9" ry="7.5" fill="#b8b8b8" filter="url(#b1)"/>
<ellipse cx="364.5" cy="990.5" rx="4" ry="2.6" fill="#000"/>
<path d="M362 1044 L368 1044 L369 1066 L361 1066 Z" fill="#eee" filter="url(#b1)"/>
<path d="M362 1085 L366 1085 L370 1106 L379 1109 L379 1117 L352 1117 L352 1109 L358 1106 Z" fill="#f0f0f0" filter="url(#b1)"/>
<path d="M310.0 863.0L307.4 865.0L301.8 876.4L297.2 887.7L292.7 899.0L289.3 910.3L282.6 921.6L278.0 932.9L272.4 944.2L271.3 955.4L271.3 962.6L272.5 990.8L277.0 1007.7L277.0 1019.0L278.0 1030.3L283.7 1041.6L288.2 1053.0L292.7 1064.0L298.4 1075.4L307.4 1088.7L316.3 1106.5L328.7 1124.2L340.0 1127.0L345.6 1127.0L345.6 1124.2L334.0 1106.5L321.6 1088.7L316.4 1075.4L313.0 1064.0L305.0 1053.0L298.2 1041.6L290.3 1030.3L288.0 1019.0L284.5 1007.7L284.5 990.8L285.5 962.6L288.0 955.4L289.0 944.2L292.0 932.9L294.5 921.6L296.0 910.3L300.5 899.0L306.0 887.7L311.5 876.4L318.7 865.0L318.0 863.0Z" fill="#f4787a"/>
<path d="M426.0 875.0L431.7 887.7L437.3 899.0L443.0 910.3L445.2 921.6L447.5 932.9L450.9 944.2L452.5 955.4L452.7 973.9L449.2 996.4L444.6 1019.0L437.9 1041.6L422.0 1064.2L418.0 1071.0L408.0 1088.7L394.0 1106.5L381.0 1124.2L379.0 1136.6L381.0 1136.6L394.4 1124.2L412.1 1106.5L426.3 1088.7L435.2 1071.0L439.0 1064.2L448.0 1041.6L454.8 1019.0L459.3 996.4L463.8 973.9L468.8 955.4L465.4 944.2L461.0 932.9L456.4 921.6L453.0 910.3L448.5 899.0L445.0 887.7L436.0 875.0Z" fill="#f4787a"/>
<path d="M281.5 1014.5L282.2 1019.0L283.7 1030.3L287.0 1041.6L290.5 1053.0L295.0 1064.0L301.0 1075.4L309.0 1088.0L316.0 1100.0L321.0 1107.0L327.0 1107.0L324.0 1100.0L318.0 1088.0L313.0 1075.4L309.7 1064.0L303.0 1053.0L296.0 1041.6L289.5 1030.3L287.0 1019.0L284.5 1014.5Z" fill="#fff" stroke="#fbd2d2" stroke-width="1"/>
<path d="M450.5 993.0L449.2 996.4L444.6 1019.0L437.9 1041.6L424.0 1064.2L415.0 1080.0L404.0 1095.0L397.0 1107.0L406.0 1107.0L417.0 1095.0L428.0 1080.0L436.7 1064.2L445.0 1041.6L450.0 1019.0L453.7 996.4L453.7 993.0Z" fill="#fff" stroke="#fbd2d2" stroke-width="1"/>
<path d="M336.7 840.3L327.7 853.9L318.7 865.0L310.8 876.4L305.0 887.7L299.5 899.0L295.0 910.3L293.9 921.6L291.6 932.9L288.2 944.2L287.0 955.4L284.5 962.6L283.7 973.9L283.7 983.0L283.7 990.8L283.7 1007.7L287.0 1019.0L289.3 1030.3L297.2 1041.6L302.9 1052.9L312.0 1062.0L332.2 1062.0L332.2 1052.9L316.4 1041.6L309.7 1030.3L305.0 1019.0L298.4 1007.7L297.2 990.8L306.3 983.0L303.0 973.9L295.0 962.6L298.4 955.4L300.5 944.2L305.0 932.9L307.4 921.6L310.8 910.3L319.8 899.0L324.3 887.7L330.0 876.4L332.2 865.0L340.0 853.9L341.3 840.3Z" fill="url(#yg)" stroke="#8a8818" stroke-width="1.2" stroke-linejoin="round"/>
<path d="M400.0 846.0L400.0 853.9L401.0 865.0L403.3 876.4L409.0 887.7L415.8 899.0L422.5 910.3L427.0 921.6L431.6 932.9L434.5 944.2L438.5 955.4L441.3 962.6L439.0 973.9L430.0 981.0L421.0 985.2L427.7 990.8L436.7 996.4L436.7 1007.7L431.0 1019.0L424.3 1030.3L421.0 1041.6L410.8 1047.2L381.4 1052.9L381.4 1058.5L390.5 1063.0L423.2 1063.0L425.5 1058.5L430.0 1052.9L433.4 1047.2L437.9 1041.6L441.3 1030.3L448.0 1019.0L449.2 1007.7L452.5 996.4L453.0 990.8L453.7 985.2L453.7 981.0L453.7 973.9L453.7 962.6L453.5 955.4L451.9 944.2L448.5 932.9L446.2 921.6L444.0 910.3L438.3 899.0L432.7 887.7L423.7 876.4L414.6 865.0L407.9 853.9L405.6 846.0Z" fill="url(#yg)" stroke="#8a8818" stroke-width="1.2" stroke-linejoin="round"/>
<path d="M370.5 829.0C372.6 829.5 374.1 821.9 376.6 819.3C379.1 816.6 381.6 814.8 385.5 813.1C389.4 811.4 394.4 810.0 399.7 809.2C405.0 808.5 412.4 808.3 417.4 808.6C422.4 808.9 424.5 809.4 429.8 811.0C435.1 812.6 442.0 814.6 449.4 818.0C456.8 821.4 465.0 825.8 474.2 831.5C483.4 837.2 494.0 844.7 504.4 852.5C514.8 860.3 526.4 868.4 536.3 878.5C546.1 888.6 556.3 902.1 563.5 913.0C570.7 923.9 575.9 934.9 579.5 944.0C583.1 953.1 583.7 958.1 585.1 967.4C586.5 976.7 587.5 988.6 588.0 1000.0C588.5 1011.4 588.7 1023.7 587.8 1035.5C586.9 1047.3 585.1 1059.2 582.4 1071.0C579.7 1082.8 575.6 1095.3 571.8 1106.5C568.0 1117.7 563.8 1129.0 559.4 1138.4C555.0 1147.9 550.5 1156.1 545.2 1163.2C539.9 1170.3 533.3 1176.8 527.4 1181.0C521.5 1185.2 515.6 1186.5 509.7 1188.1C503.8 1189.7 499.3 1190.4 491.9 1190.7C484.5 1191.0 472.4 1190.9 465.3 1189.9C458.2 1188.9 454.4 1186.6 449.4 1184.5C444.4 1182.4 439.3 1179.3 435.2 1177.4C431.1 1175.5 427.5 1173.0 424.5 1173.0C421.5 1173.0 420.9 1174.6 417.4 1177.4C413.8 1180.2 408.5 1186.4 403.2 1189.9C397.9 1193.5 391.4 1196.5 385.5 1198.7C379.6 1200.9 373.6 1202.4 367.7 1203.2C361.8 1204.0 354.1 1204.0 350.0 1203.5C345.9 1203.0 347.0 1202.2 342.9 1200.5C338.8 1198.8 329.9 1196.7 325.2 1193.4C320.5 1190.2 317.8 1184.0 314.5 1181.0C311.2 1178.0 308.1 1177.5 305.7 1175.7C303.3 1173.9 304.4 1169.7 300.3 1170.3C296.2 1170.9 288.5 1176.8 280.8 1179.2C273.1 1181.6 261.6 1183.6 254.2 1184.5C246.8 1185.4 242.4 1185.1 236.5 1184.5C230.6 1183.9 224.6 1182.2 218.7 1181.0C212.8 1179.8 206.0 1179.5 201.0 1177.4C196.0 1175.3 192.4 1173.0 188.6 1168.6C184.8 1164.2 181.2 1157.6 177.9 1150.8C174.6 1144.0 171.9 1135.2 169.0 1127.8C166.1 1120.4 162.8 1114.5 160.2 1106.5C157.5 1098.5 154.9 1088.7 153.1 1079.8C151.3 1070.9 150.2 1063.5 149.5 1053.2C148.8 1042.9 148.8 1026.6 148.6 1017.7C148.4 1008.8 148.4 1009.6 148.6 1000.0C148.8 990.4 148.2 971.0 149.5 960.3C150.8 949.5 152.4 945.2 156.6 935.5C160.8 925.8 167.9 911.6 174.4 901.8C180.9 892.0 188.8 883.8 195.6 876.9C202.4 870.0 206.6 866.6 215.2 860.1C223.8 853.6 234.7 844.9 247.1 837.9C259.5 830.9 277.9 823.1 289.7 818.4C301.5 813.7 307.8 811.0 318.1 809.5C328.5 808.0 344.1 808.0 351.8 809.2C359.5 810.4 361.1 813.3 364.2 816.6C367.3 819.9 368.4 828.5 370.5 829.0Z" fill="none" stroke="#8c8c8c" stroke-width="7.0" filter="url(#b1)"/>
</g>
<path d="M576.7 829.1L413.8 875.0" stroke="url(#ag1)" stroke-width="4.0" fill="none"/>
<path d="M426.5 862.5L413.8 875.0L431.0 880.8" stroke="#fff" stroke-width="4.0" fill="none" stroke-linejoin="miter" stroke-miterlimit="10" stroke-linecap="butt"/>
<path d="M650.3 1014.0L438.7 1072.7" stroke="url(#ag2)" stroke-width="4.0" fill="none"/>
<path d="M451.3 1060.5L438.7 1072.7L455.8 1078.7" stroke="#fff" stroke-width="4.0" fill="none" stroke-linejoin="miter" stroke-miterlimit="10" stroke-linecap="butt"/>
<text class="an" transform="translate(584.6 832.2) scale(0.976 1.040)">str</text>
<text class="an" transform="translate(656.6 1020.1) scale(0.969 1.040)">cst</text>
</g>
<g id="brain2">
<path d="M1058.3 814.5C1060.0 814.6 1059.4 808.0 1063.0 806.5C1066.6 805.0 1074.7 805.4 1080.0 805.5C1085.3 805.6 1090.0 806.1 1095.0 807.0C1100.0 807.9 1105.0 809.5 1110.0 811.0C1115.0 812.5 1120.0 814.3 1125.0 816.0C1130.0 817.7 1135.8 819.3 1140.0 821.0C1144.2 822.7 1146.7 823.7 1150.0 826.0C1153.3 828.3 1156.7 831.3 1160.0 835.0C1163.3 838.7 1166.7 843.3 1170.0 848.0C1173.3 852.7 1177.0 858.2 1180.0 863.0C1183.0 867.8 1185.5 872.3 1188.0 877.0C1190.5 881.7 1193.2 886.7 1195.0 891.0C1196.8 895.3 1197.7 898.3 1199.0 903.0C1200.3 907.7 1201.2 913.2 1203.0 919.0C1204.8 924.8 1208.0 931.6 1210.1 938.0C1212.2 944.4 1214.0 950.2 1215.8 957.2C1217.5 964.2 1219.3 973.0 1220.6 980.0C1221.9 987.0 1222.6 991.5 1223.4 999.0C1224.2 1006.5 1225.0 1019.2 1225.3 1025.0C1225.6 1030.8 1225.6 1027.3 1225.3 1033.5C1225.0 1039.7 1224.7 1053.1 1223.4 1062.0C1222.1 1070.9 1220.2 1078.5 1217.7 1086.7C1215.2 1094.9 1211.7 1103.5 1208.2 1111.4C1204.7 1119.3 1201.2 1126.6 1196.8 1134.2C1192.4 1141.8 1187.0 1149.4 1181.6 1157.0C1176.2 1164.6 1170.5 1172.8 1164.5 1179.8C1158.5 1186.8 1151.8 1193.1 1145.5 1198.8C1139.2 1204.5 1132.8 1209.6 1126.5 1214.0C1120.2 1218.4 1113.8 1222.4 1107.5 1225.4C1101.2 1228.4 1094.5 1230.7 1088.5 1232.1C1082.5 1233.5 1076.2 1234.5 1071.4 1234.0C1066.7 1233.5 1062.9 1231.6 1060.0 1229.2C1057.1 1226.8 1055.5 1222.7 1054.0 1219.7C1052.5 1216.8 1052.1 1211.7 1051.0 1211.5C1049.9 1211.3 1050.1 1215.8 1047.5 1218.5C1044.9 1221.2 1040.2 1226.2 1035.5 1228.0C1030.8 1229.8 1025.8 1230.2 1019.6 1229.5C1013.4 1228.8 1005.6 1226.8 998.0 1224.0C990.4 1221.2 981.5 1217.0 974.0 1213.0C966.5 1209.0 960.0 1205.3 953.0 1200.0C946.0 1194.7 938.2 1187.7 932.0 1181.0C925.8 1174.3 920.7 1167.5 916.0 1160.0C911.3 1152.5 907.6 1144.4 904.0 1136.0C900.4 1127.6 897.3 1118.3 894.6 1109.5C891.9 1100.7 889.8 1091.9 888.0 1083.0C886.2 1074.1 884.9 1064.9 884.0 1056.0C883.1 1047.1 882.6 1038.5 882.6 1029.7C882.6 1020.9 883.3 1011.5 884.0 1003.0C884.7 994.5 885.8 985.7 886.6 979.0C887.4 972.3 887.3 970.1 889.0 963.0C890.7 955.9 893.7 944.6 897.0 936.6C900.3 928.6 906.7 921.1 909.0 915.0C911.3 908.9 910.3 904.7 911.0 900.0C911.7 895.3 911.7 891.2 913.0 887.0C914.3 882.8 916.5 879.0 919.0 875.0C921.5 871.0 924.8 867.3 928.0 863.0C931.2 858.7 934.7 853.3 938.0 849.0C941.3 844.7 944.3 841.0 948.0 837.0C951.7 833.0 955.5 828.7 960.0 825.0C964.5 821.3 970.0 817.5 975.0 815.0C980.0 812.5 984.2 811.3 990.0 810.0C995.8 808.7 1003.3 807.8 1010.0 807.0C1016.7 806.2 1022.8 805.7 1030.0 805.5C1037.2 805.3 1048.3 804.5 1053.0 806.0C1057.7 807.5 1056.6 814.4 1058.3 814.5Z" fill="#505050" stroke="#777" stroke-width="1.2" filter="url(#b05)"/>
<g clip-path="url(#clip2)">
<ellipse cx="1055" cy="990" rx="82" ry="60" fill="#3c3c3c" filter="url(#b3)"/>
<path d="M1058.3 814.5C1060.0 814.6 1059.4 808.0 1063.0 806.5C1066.6 805.0 1074.7 805.4 1080.0 805.5C1085.3 805.6 1090.0 806.1 1095.0 807.0C1100.0 807.9 1105.0 809.5 1110.0 811.0C1115.0 812.5 1120.0 814.3 1125.0 816.0C1130.0 817.7 1135.8 819.3 1140.0 821.0C1144.2 822.7 1146.7 823.7 1150.0 826.0C1153.3 828.3 1156.7 831.3 1160.0 835.0C1163.3 838.7 1166.7 843.3 1170.0 848.0C1173.3 852.7 1177.0 858.2 1180.0 863.0C1183.0 867.8 1185.5 872.3 1188.0 877.0C1190.5 881.7 1193.2 886.7 1195.0 891.0C1196.8 895.3 1197.7 898.3 1199.0 903.0C1200.3 907.7 1201.2 913.2 1203.0 919.0C1204.8 924.8 1208.0 931.6 1210.1 938.0C1212.2 944.4 1214.0 950.2 1215.8 957.2C1217.5 964.2 1219.3 973.0 1220.6 980.0C1221.9 987.0 1222.6 991.5 1223.4 999.0C1224.2 1006.5 1225.0 1019.2 1225.3 1025.0C1225.6 1030.8 1225.6 1027.3 1225.3 1033.5C1225.0 1039.7 1224.7 1053.1 1223.4 1062.0C1222.1 1070.9 1220.2 1078.5 1217.7 1086.7C1215.2 1094.9 1211.7 1103.5 1208.2 1111.4C1204.7 1119.3 1201.2 1126.6 1196.8 1134.2C1192.4 1141.8 1187.0 1149.4 1181.6 1157.0C1176.2 1164.6 1170.5 1172.8 1164.5 1179.8C1158.5 1186.8 1151.8 1193.1 1145.5 1198.8C1139.2 1204.5 1132.8 1209.6 1126.5 1214.0C1120.2 1218.4 1113.8 1222.4 1107.5 1225.4C1101.2 1228.4 1094.5 1230.7 1088.5 1232.1C1082.5 1233.5 1076.2 1234.5 1071.4 1234.0C1066.7 1233.5 1062.9 1231.6 1060.0 1229.2C1057.1 1226.8 1055.5 1222.7 1054.0 1219.7C1052.5 1216.8 1052.1 1211.7 1051.0 1211.5C1049.9 1211.3 1050.1 1215.8 1047.5 1218.5C1044.9 1221.2 1040.2 1226.2 1035.5 1228.0C1030.8 1229.8 1025.8 1230.2 1019.6 1229.5C1013.4 1228.8 1005.6 1226.8 998.0 1224.0C990.4 1221.2 981.5 1217.0 974.0 1213.0C966.5 1209.0 960.0 1205.3 953.0 1200.0C946.0 1194.7 938.2 1187.7 932.0 1181.0C925.8 1174.3 920.7 1167.5 916.0 1160.0C911.3 1152.5 907.6 1144.4 904.0 1136.0C900.4 1127.6 897.3 1118.3 894.6 1109.5C891.9 1100.7 889.8 1091.9 888.0 1083.0C886.2 1074.1 884.9 1064.9 884.0 1056.0C883.1 1047.1 882.6 1038.5 882.6 1029.7C882.6 1020.9 883.3 1011.5 884.0 1003.0C884.7 994.5 885.8 985.7 886.6 979.0C887.4 972.3 887.3 970.1 889.0 963.0C890.7 955.9 893.7 944.6 897.0 936.6C900.3 928.6 906.7 921.1 909.0 915.0C911.3 908.9 910.3 904.7 911.0 900.0C911.7 895.3 911.7 891.2 913.0 887.0C914.3 882.8 916.5 879.0 919.0 875.0C921.5 871.0 924.8 867.3 928.0 863.0C931.2 858.7 934.7 853.3 938.0 849.0C941.3 844.7 944.3 841.0 948.0 837.0C951.7 833.0 955.5 828.7 960.0 825.0C964.5 821.3 970.0 817.5 975.0 815.0C980.0 812.5 984.2 811.3 990.0 810.0C995.8 808.7 1003.3 807.8 1010.0 807.0C1016.7 806.2 1022.8 805.7 1030.0 805.5C1037.2 805.3 1048.3 804.5 1053.0 806.0C1057.7 807.5 1056.6 814.4 1058.3 814.5Z" fill="none" stroke="#3a3a3a" stroke-width="49" stroke-linejoin="round" filter="url(#b3)"/>
<path d="M1058.3 814.5C1060.0 814.6 1059.4 808.0 1063.0 806.5C1066.6 805.0 1074.7 805.4 1080.0 805.5C1085.3 805.6 1090.0 806.1 1095.0 807.0C1100.0 807.9 1105.0 809.5 1110.0 811.0C1115.0 812.5 1120.0 814.3 1125.0 816.0C1130.0 817.7 1135.8 819.3 1140.0 821.0C1144.2 822.7 1146.7 823.7 1150.0 826.0C1153.3 828.3 1156.7 831.3 1160.0 835.0C1163.3 838.7 1166.7 843.3 1170.0 848.0C1173.3 852.7 1177.0 858.2 1180.0 863.0C1183.0 867.8 1185.5 872.3 1188.0 877.0C1190.5 881.7 1193.2 886.7 1195.0 891.0C1196.8 895.3 1197.7 898.3 1199.0 903.0C1200.3 907.7 1201.2 913.2 1203.0 919.0C1204.8 924.8 1208.0 931.6 1210.1 938.0C1212.2 944.4 1214.0 950.2 1215.8 957.2C1217.5 964.2 1219.3 973.0 1220.6 980.0C1221.9 987.0 1222.6 991.5 1223.4 999.0C1224.2 1006.5 1225.0 1019.2 1225.3 1025.0C1225.6 1030.8 1225.6 1027.3 1225.3 1033.5C1225.0 1039.7 1224.7 1053.1 1223.4 1062.0C1222.1 1070.9 1220.2 1078.5 1217.7 1086.7C1215.2 1094.9 1211.7 1103.5 1208.2 1111.4C1204.7 1119.3 1201.2 1126.6 1196.8 1134.2C1192.4 1141.8 1187.0 1149.4 1181.6 1157.0C1176.2 1164.6 1170.5 1172.8 1164.5 1179.8C1158.5 1186.8 1151.8 1193.1 1145.5 1198.8C1139.2 1204.5 1132.8 1209.6 1126.5 1214.0C1120.2 1218.4 1113.8 1222.4 1107.5 1225.4C1101.2 1228.4 1094.5 1230.7 1088.5 1232.1C1082.5 1233.5 1076.2 1234.5 1071.4 1234.0C1066.7 1233.5 1062.9 1231.6 1060.0 1229.2C1057.1 1226.8 1055.5 1222.7 1054.0 1219.7C1052.5 1216.8 1052.1 1211.7 1051.0 1211.5C1049.9 1211.3 1050.1 1215.8 1047.5 1218.5C1044.9 1221.2 1040.2 1226.2 1035.5 1228.0C1030.8 1229.8 1025.8 1230.2 1019.6 1229.5C1013.4 1228.8 1005.6 1226.8 998.0 1224.0C990.4 1221.2 981.5 1217.0 974.0 1213.0C966.5 1209.0 960.0 1205.3 953.0 1200.0C946.0 1194.7 938.2 1187.7 932.0 1181.0C925.8 1174.3 920.7 1167.5 916.0 1160.0C911.3 1152.5 907.6 1144.4 904.0 1136.0C900.4 1127.6 897.3 1118.3 894.6 1109.5C891.9 1100.7 889.8 1091.9 888.0 1083.0C886.2 1074.1 884.9 1064.9 884.0 1056.0C883.1 1047.1 882.6 1038.5 882.6 1029.7C882.6 1020.9 883.3 1011.5 884.0 1003.0C884.7 994.5 885.8 985.7 886.6 979.0C887.4 972.3 887.3 970.1 889.0 963.0C890.7 955.9 893.7 944.6 897.0 936.6C900.3 928.6 906.7 921.1 909.0 915.0C911.3 908.9 910.3 904.7 911.0 900.0C911.7 895.3 911.7 891.2 913.0 887.0C914.3 882.8 916.5 879.0 919.0 875.0C921.5 871.0 924.8 867.3 928.0 863.0C931.2 858.7 934.7 853.3 938.0 849.0C941.3 844.7 944.3 841.0 948.0 837.0C951.7 833.0 955.5 828.7 960.0 825.0C964.5 821.3 970.0 817.5 975.0 815.0C980.0 812.5 984.2 811.3 990.0 810.0C995.8 808.7 1003.3 807.8 1010.0 807.0C1016.7 806.2 1022.8 805.7 1030.0 805.5C1037.2 805.3 1048.3 804.5 1053.0 806.0C1057.7 807.5 1056.6 814.4 1058.3 814.5Z" fill="none" stroke="#2b2b2b" stroke-width="23" stroke-linejoin="round" filter="url(#b2)"/>
<g fill="none" stroke="#2b2b2b" stroke-linecap="round" stroke-linejoin="round" filter="url(#b2)">
<path d="M1057.0 815.0C1056.8 820.8 1056.3 839.2 1056.0 850.0C1055.7 860.8 1055.2 870.8 1055.0 880.0C1054.8 889.2 1055.0 900.8 1055.0 905.0" stroke-width="13.0"/>
<path d="M990.0 815.0C990.8 818.3 993.3 829.2 995.0 835.0C996.7 840.8 999.2 847.5 1000.0 850.0" stroke-width="12.0"/>
<path d="M1120.0 818.0C1119.2 821.3 1116.7 832.3 1115.0 838.0C1113.3 843.7 1110.8 849.7 1110.0 852.0" stroke-width="12.0"/>
<path d="M950.0 845.0C952.5 847.5 960.8 854.5 965.0 860.0C969.2 865.5 973.3 875.0 975.0 878.0" stroke-width="12.0"/>
<path d="M1160.0 848.0C1158.0 850.3 1151.7 856.7 1148.0 862.0C1144.3 867.3 1139.7 877.0 1138.0 880.0" stroke-width="12.0"/>
<path d="M1035.0 860.0C1036.2 862.5 1039.5 870.8 1042.0 875.0C1044.5 879.2 1048.7 883.3 1050.0 885.0" stroke-width="12.0"/>
<path d="M1078.0 862.0C1076.7 864.5 1072.7 872.8 1070.0 877.0C1067.3 881.2 1063.3 885.3 1062.0 887.0" stroke-width="12.0"/>
<path d="M915.0 900.0C919.2 900.8 931.7 902.5 940.0 905.0C948.3 907.5 959.7 910.8 965.0 915.0C970.3 919.2 970.8 927.5 972.0 930.0" stroke-width="12.0"/>
<path d="M1195.0 900.0C1190.8 900.8 1178.3 902.5 1170.0 905.0C1161.7 907.5 1150.3 910.8 1145.0 915.0C1139.7 919.2 1139.2 927.5 1138.0 930.0" stroke-width="12.0"/>
<path d="M896.0 972.0C899.2 973.0 908.2 975.7 915.0 978.0C921.8 980.3 931.8 981.8 937.0 986.0C942.2 990.2 943.3 997.0 946.0 1003.0C948.7 1009.0 950.7 1016.7 953.0 1022.0C955.3 1027.3 958.8 1032.8 960.0 1035.0" stroke-width="13.0"/>
<path d="M1216.0 974.0C1212.5 975.3 1202.7 978.5 1195.0 982.0C1187.3 985.5 1176.7 990.0 1170.0 995.0C1163.3 1000.0 1159.0 1006.0 1155.0 1012.0C1151.0 1018.0 1148.3 1026.0 1146.0 1031.0C1143.7 1036.0 1141.8 1040.2 1141.0 1042.0" stroke-width="13.0"/>
<path d="M905.0 1065.0C908.3 1064.5 918.3 1061.5 925.0 1062.0C931.7 1062.5 941.7 1067.0 945.0 1068.0" stroke-width="12.0"/>
<path d="M1200.0 1065.0C1196.7 1064.5 1186.7 1061.5 1180.0 1062.0C1173.3 1062.5 1163.3 1067.0 1160.0 1068.0" stroke-width="12.0"/>
<path d="M915.0 1120.0C918.3 1118.7 929.2 1112.0 935.0 1112.0C940.8 1112.0 947.5 1118.7 950.0 1120.0" stroke-width="12.0"/>
<path d="M1190.0 1120.0C1186.7 1118.7 1175.8 1112.0 1170.0 1112.0C1164.2 1112.0 1157.5 1118.7 1155.0 1120.0" stroke-width="12.0"/>
<path d="M945.0 1175.0C947.2 1172.5 953.5 1161.7 958.0 1160.0C962.5 1158.3 969.7 1164.2 972.0 1165.0" stroke-width="12.0"/>
<path d="M1160.0 1170.0C1157.8 1168.0 1151.5 1159.2 1147.0 1158.0C1142.5 1156.8 1135.3 1162.2 1133.0 1163.0" stroke-width="12.0"/>
<path d="M1048.0 1130.0C1048.0 1136.7 1048.0 1156.3 1048.0 1170.0C1048.0 1183.7 1048.0 1205.0 1048.0 1212.0" stroke-width="12.0"/>
<path d="M975.0 1068.0C977.5 1067.0 982.5 1062.3 990.0 1062.0C997.5 1061.7 1012.5 1063.8 1020.0 1066.0C1027.5 1068.2 1031.7 1070.2 1035.0 1075.0C1038.3 1079.8 1039.2 1091.7 1040.0 1095.0" stroke-width="12.0"/>
<path d="M1130.0 1068.0C1127.0 1067.0 1119.5 1062.3 1112.0 1062.0C1104.5 1061.7 1092.3 1063.8 1085.0 1066.0C1077.7 1068.2 1072.2 1070.2 1068.0 1075.0C1063.8 1079.8 1061.3 1091.7 1060.0 1095.0" stroke-width="12.0"/>
<path d="M990.0 1105.0C993.3 1103.8 1003.7 1097.5 1010.0 1098.0C1016.3 1098.5 1026.3 1103.5 1028.0 1108.0C1029.7 1112.5 1023.8 1121.7 1020.0 1125.0C1016.2 1128.3 1007.5 1127.5 1005.0 1128.0" stroke-width="11.0"/>
<path d="M1110.0 1105.0C1106.7 1103.8 1096.3 1097.5 1090.0 1098.0C1083.7 1098.5 1073.7 1103.5 1072.0 1108.0C1070.3 1112.5 1076.2 1121.7 1080.0 1125.0C1083.8 1128.3 1092.5 1127.5 1095.0 1128.0" stroke-width="11.0"/>
<path d="M1005.0 1160.0C1007.8 1158.3 1017.0 1149.2 1022.0 1150.0C1027.0 1150.8 1033.7 1158.3 1035.0 1165.0C1036.3 1171.7 1030.8 1185.8 1030.0 1190.0" stroke-width="11.0"/>
<path d="M1095.0 1160.0C1092.2 1158.3 1083.0 1149.2 1078.0 1150.0C1073.0 1150.8 1066.7 1158.3 1065.0 1165.0C1063.3 1171.7 1067.5 1185.8 1068.0 1190.0" stroke-width="11.0"/>
<path d="M1000.0 985.0C1005.0 989.2 1020.7 1002.5 1030.0 1010.0C1039.3 1017.5 1051.7 1026.7 1056.0 1030.0" stroke-width="18.0"/>
<path d="M1110.0 985.0C1105.3 989.2 1091.0 1002.5 1082.0 1010.0C1073.0 1017.5 1060.3 1026.7 1056.0 1030.0" stroke-width="18.0"/>
</g>
<g fill="none" stroke-linecap="round" stroke-linejoin="round" filter="url(#b1)">
<path d="M1057.0 815.0C1056.8 820.8 1056.3 839.2 1056.0 850.0C1055.7 860.8 1055.2 870.8 1055.0 880.0C1054.8 889.2 1055.0 900.8 1055.0 905.0" stroke="#8a8a8a" stroke-width="2.2"/>
<path d="M973.0 1068.0C972.8 1071.7 971.2 1081.3 972.0 1090.0C972.8 1098.7 975.0 1110.0 978.0 1120.0C981.0 1130.0 987.0 1143.0 990.0 1150.0C993.0 1157.0 995.0 1160.0 996.0 1162.0" stroke="#ddd" stroke-width="3.5"/>
<path d="M1127.0 1068.0C1127.2 1071.7 1128.8 1081.3 1128.0 1090.0C1127.2 1098.7 1124.7 1110.0 1122.0 1120.0C1119.3 1130.0 1114.8 1142.5 1112.0 1150.0C1109.2 1157.5 1106.2 1162.5 1105.0 1165.0" stroke="#ddd" stroke-width="3.5"/>
<path d="M995.0 1105.0C997.8 1104.2 1007.0 1099.2 1012.0 1100.0C1017.0 1100.8 1024.5 1106.0 1025.0 1110.0C1025.5 1114.0 1016.7 1121.7 1015.0 1124.0" stroke="#999" stroke-width="2.0"/>
<path d="M1105.0 1105.0C1102.2 1104.2 1093.0 1099.2 1088.0 1100.0C1083.0 1100.8 1075.5 1106.0 1075.0 1110.0C1074.5 1114.0 1083.3 1121.7 1085.0 1124.0" stroke="#999" stroke-width="2.0"/>
</g>
<path d="M1013 913 C1025 918 1036 930 1040 945 C1042 962 1042 975 1048 985 L1054 992 L1060 985 C1066 975 1067 962 1069 945 C1073 930 1085 918 1097 913" fill="none" stroke="#e6e6e6" stroke-width="4" filter="url(#b05)" stroke-linecap="round"/>
<path d="M1046 930 L1062 930 L1058 955 L1055 972 L1052 955 Z" fill="#f4f4f4" filter="url(#b1)"/>
<path d="M1027 1068 C1036 1062 1042 1052 1046 1044 L1052.5 1036 L1059 1044 C1063 1052 1069 1062 1079 1068" fill="none" stroke="#ececec" stroke-width="7" stroke-linejoin="round" stroke-linecap="round" filter="url(#b1)"/>
<path d="M1052.5 1028 L1052.5 1040" stroke="#ccc" stroke-width="2.5" fill="none" filter="url(#b05)"/>
<path d="M1042 1059 C1044 1054 1049 1056 1049 1062 L1051.5 1078 L1054 1060 C1055 1052 1061 1053 1061 1060 C1061 1075 1057 1090 1054 1100 L1052.5 1128 L1051 1100 C1046 1090 1042 1075 1042 1059 Z" fill="#000"/>
<path d="M1020.1 842.3 L1014.4 852.7 L1010.2 866 L1009.7 879.3 L1012.5 892.6 L1021.1 903.1 L1031.5 911.6 L1042.9 917.7 L1056.2 920.2 L1069.5 917.7 L1082.8 910.7 L1094.2 899.3 L1100.3 886.9 L1102.2 873.6 L1100.3 860.3 L1097.1 850.8 L1094.2 846.1" fill="none" stroke="#2a3ea8" stroke-width="6" stroke-linejoin="round"/>
<path d="M1025 906 L1031.5 911.6 L1042.9 917.7 L1056.2 920.2 L1069.5 917.7 L1082.8 910.7 L1088 905" fill="none" stroke="#3a7fd8" stroke-width="8.5" stroke-linejoin="round"/>
<path d="M1033 912.5 L1042.9 917 L1056.2 919.2 L1069.5 917 L1080 912" fill="none" stroke="#56b4ea" stroke-width="3.4" stroke-linejoin="round"/>
<path d="M986.9 893.6L995.4 893.6L1001.1 907.8L1004.9 926.8L1010.6 940.1L1022.0 953.4L1031.5 966.7L1037.2 980.0L1042.9 989.5L1044.8 999.0L1042.0 1008.5L1036.3 1008.5L1033.4 998.1L1016.3 997.1L1015.4 989.5L1022.0 983.8L1020.1 970.5L1010.6 957.2L1001.1 945.8L993.5 932.5L990.7 913.5L987.8 904.0Z" fill="#1f9a28"/>
<path d="M1122.7 897.4L1114.2 897.4L1109.4 909.7L1111.3 926.8L1107.5 940.1L1098.0 951.5L1088.5 962.9L1080.9 972.4L1075.2 981.9L1069.5 989.5L1068.6 1000.9L1075.2 998.1L1091.4 997.1L1092.3 985.7L1090.4 972.4L1098.0 961.0L1107.5 949.6L1116.1 938.2L1118.9 923.0L1118.0 911.6L1122.7 904.0Z" fill="#1f9a28"/>
<path d="M1116 916 L1120 916 L1120 928 L1123 928 L1123 934 L1127 934 L1127 947 L1123 947 L1123 940 L1120 940 L1120 936 L1118 936 L1118 930 L1116 930 Z" fill="#ee3a1e" stroke="#f0821e" stroke-width="0.6"/>
<path d="M937.5 974.6L940.6 982.5L948.5 985.6L940.6 988.7L937.5 996.6L934.4 988.7L926.5 985.6L934.4 982.5Z" fill="#f2f2f2" filter="url(#b05)"/>
<path d="M1170.0 984.0L1173.1 991.9L1181.0 995.0L1173.1 998.1L1170.0 1006.0L1166.9 998.1L1159.0 995.0L1166.9 991.9Z" fill="#f2f2f2" filter="url(#b05)"/>
<path d="M913 975 L926 981 L937 986 L946 1003 L953 1022 L959 1032" fill="none" stroke="#9a9a9a" stroke-width="2.2" filter="url(#b1)"/>
<path d="M1202 975 L1192 983 L1170 995 L1155 1012 L1146 1031 L1142 1040" fill="none" stroke="#9a9a9a" stroke-width="2.2" filter="url(#b1)"/>
<path d="M977 1073 L987 1078 L990 1090 L981 1094 L975 1084 Z" fill="#f0f0f0" filter="url(#b1)"/>
<path d="M1127 1082 L1117 1086 L1114 1098 L1123 1102 L1129 1092 Z" fill="#f0f0f0" filter="url(#b1)"/>
<path d="M984 1020 L988 1010 L995 1003 L1003 1002 L1000 1012 L994 1022 L990 1027 L984 1027 Z" fill="#f58e8e"/>
<path d="M990 1012 L996 1005 L999 1008 L994 1019 Z" fill="#fff"/>
<path d="M997 1008 L1004 1002 L1010 1003 L1008 1012 L1012 1020 L1017 1021 L1017 1026 L1003 1026 L997 1021 L994 1020 Z" fill="#d8d420"/>
<path d="M1123 1020 L1119 1010 L1112 1003 L1104 1002 L1107 1012 L1113 1022 L1117 1027 L1123 1027 Z" fill="#f58e8e"/>
<path d="M1117 1012 L1111 1005 L1108 1008 L1113 1019 Z" fill="#fff"/>
<path d="M1110 1008 L1103 1002 L1096 1003 L1099 1012 L1096 1020 L1086 1022 L1085 1027 L1103 1027 L1110 1021 L1113 1020 Z" fill="#d8d420"/>
<path d="M1058.3 814.5C1060.0 814.6 1059.4 808.0 1063.0 806.5C1066.6 805.0 1074.7 805.4 1080.0 805.5C1085.3 805.6 1090.0 806.1 1095.0 807.0C1100.0 807.9 1105.0 809.5 1110.0 811.0C1115.0 812.5 1120.0 814.3 1125.0 816.0C1130.0 817.7 1135.8 819.3 1140.0 821.0C1144.2 822.7 1146.7 823.7 1150.0 826.0C1153.3 828.3 1156.7 831.3 1160.0 835.0C1163.3 838.7 1166.7 843.3 1170.0 848.0C1173.3 852.7 1177.0 858.2 1180.0 863.0C1183.0 867.8 1185.5 872.3 1188.0 877.0C1190.5 881.7 1193.2 886.7 1195.0 891.0C1196.8 895.3 1197.7 898.3 1199.0 903.0C1200.3 907.7 1201.2 913.2 1203.0 919.0C1204.8 924.8 1208.0 931.6 1210.1 938.0C1212.2 944.4 1214.0 950.2 1215.8 957.2C1217.5 964.2 1219.3 973.0 1220.6 980.0C1221.9 987.0 1222.6 991.5 1223.4 999.0C1224.2 1006.5 1225.0 1019.2 1225.3 1025.0C1225.6 1030.8 1225.6 1027.3 1225.3 1033.5C1225.0 1039.7 1224.7 1053.1 1223.4 1062.0C1222.1 1070.9 1220.2 1078.5 1217.7 1086.7C1215.2 1094.9 1211.7 1103.5 1208.2 1111.4C1204.7 1119.3 1201.2 1126.6 1196.8 1134.2C1192.4 1141.8 1187.0 1149.4 1181.6 1157.0C1176.2 1164.6 1170.5 1172.8 1164.5 1179.8C1158.5 1186.8 1151.8 1193.1 1145.5 1198.8C1139.2 1204.5 1132.8 1209.6 1126.5 1214.0C1120.2 1218.4 1113.8 1222.4 1107.5 1225.4C1101.2 1228.4 1094.5 1230.7 1088.5 1232.1C1082.5 1233.5 1076.2 1234.5 1071.4 1234.0C1066.7 1233.5 1062.9 1231.6 1060.0 1229.2C1057.1 1226.8 1055.5 1222.7 1054.0 1219.7C1052.5 1216.8 1052.1 1211.7 1051.0 1211.5C1049.9 1211.3 1050.1 1215.8 1047.5 1218.5C1044.9 1221.2 1040.2 1226.2 1035.5 1228.0C1030.8 1229.8 1025.8 1230.2 1019.6 1229.5C1013.4 1228.8 1005.6 1226.8 998.0 1224.0C990.4 1221.2 981.5 1217.0 974.0 1213.0C966.5 1209.0 960.0 1205.3 953.0 1200.0C946.0 1194.7 938.2 1187.7 932.0 1181.0C925.8 1174.3 920.7 1167.5 916.0 1160.0C911.3 1152.5 907.6 1144.4 904.0 1136.0C900.4 1127.6 897.3 1118.3 894.6 1109.5C891.9 1100.7 889.8 1091.9 888.0 1083.0C886.2 1074.1 884.9 1064.9 884.0 1056.0C883.1 1047.1 882.6 1038.5 882.6 1029.7C882.6 1020.9 883.3 1011.5 884.0 1003.0C884.7 994.5 885.8 985.7 886.6 979.0C887.4 972.3 887.3 970.1 889.0 963.0C890.7 955.9 893.7 944.6 897.0 936.6C900.3 928.6 906.7 921.1 909.0 915.0C911.3 908.9 910.3 904.7 911.0 900.0C911.7 895.3 911.7 891.2 913.0 887.0C914.3 882.8 916.5 879.0 919.0 875.0C921.5 871.0 924.8 867.3 928.0 863.0C931.2 858.7 934.7 853.3 938.0 849.0C941.3 844.7 944.3 841.0 948.0 837.0C951.7 833.0 955.5 828.7 960.0 825.0C964.5 821.3 970.0 817.5 975.0 815.0C980.0 812.5 984.2 811.3 990.0 810.0C995.8 808.7 1003.3 807.8 1010.0 807.0C1016.7 806.2 1022.8 805.7 1030.0 805.5C1037.2 805.3 1048.3 804.5 1053.0 806.0C1057.7 807.5 1056.6 814.4 1058.3 814.5Z" fill="none" stroke="#8c8c8c" stroke-width="7.0" filter="url(#b1)"/>
</g>
<path d="M1268.0 833.0L1106.0 878.7" stroke="url(#ag3)" stroke-width="4.0" fill="none"/>
<path d="M1117.5 866.0L1106.0 878.7L1122.5 884.5" stroke="#fff" stroke-width="4.0" fill="none" stroke-linejoin="miter" stroke-miterlimit="10" stroke-linecap="butt"/>
<path d="M1257.0 924.0L1094.9 971.4" stroke="url(#ag4)" stroke-width="4.0" fill="none"/>
<path d="M1106.6 958.2L1094.9 971.4L1112.3 977.2" stroke="#fff" stroke-width="4.0" fill="none" stroke-linejoin="miter" stroke-miterlimit="10" stroke-linecap="butt"/>
<text class="an" transform="translate(1274.2 835.4) scale(0.956 1.040)">fmi</text>
<text class="an" transform="translate(1262.8 928.0) scale(1.000 1.040)">atr</text>
</g>
<g id="brain3">
<path d="M1738.2 815.0C1739.9 814.9 1739.4 810.1 1743.0 809.0C1746.6 807.9 1754.5 808.2 1760.0 808.2C1765.5 808.2 1770.7 808.2 1776.0 809.0C1781.3 809.8 1786.3 811.3 1792.0 813.0C1797.7 814.7 1804.5 817.2 1810.0 819.0C1815.5 820.8 1820.3 821.8 1825.0 824.0C1829.7 826.2 1833.8 828.5 1838.0 832.0C1842.2 835.5 1846.3 840.3 1850.0 845.0C1853.7 849.7 1856.8 855.0 1860.0 860.0C1863.2 865.0 1866.5 870.5 1869.0 875.0C1871.5 879.5 1873.6 882.8 1875.0 887.0C1876.4 891.2 1877.2 896.2 1877.5 900.0C1877.8 903.8 1877.3 906.3 1877.0 910.0C1876.7 913.7 1874.3 918.1 1875.5 922.0C1876.7 925.9 1881.6 929.0 1884.4 933.1C1887.2 937.2 1890.0 941.2 1892.5 946.6C1895.0 952.0 1897.5 958.8 1899.3 965.5C1901.1 972.3 1902.3 981.4 1903.3 987.1C1904.3 992.9 1905.1 995.1 1905.4 1000.0C1905.7 1004.9 1905.8 1009.1 1905.4 1016.8C1905.1 1024.5 1904.7 1036.0 1903.3 1046.2C1901.9 1056.4 1899.8 1067.2 1897.0 1077.7C1894.2 1088.2 1890.7 1098.7 1886.5 1109.2C1882.3 1119.7 1877.0 1130.9 1871.8 1140.7C1866.5 1150.5 1861.3 1159.2 1855.0 1168.0C1848.7 1176.8 1841.7 1185.5 1834.0 1193.2C1826.3 1200.9 1817.2 1208.4 1808.8 1214.2C1800.4 1220.0 1791.3 1224.8 1783.6 1227.8C1775.9 1230.8 1768.9 1231.8 1762.6 1232.0C1756.3 1232.2 1750.3 1231.2 1745.8 1228.9C1741.2 1226.6 1738.4 1222.1 1735.3 1218.4C1732.2 1214.7 1729.7 1206.8 1726.9 1206.5C1724.1 1206.2 1722.3 1212.9 1718.5 1216.3C1714.7 1219.7 1709.0 1224.9 1703.8 1226.8C1698.5 1228.7 1693.3 1229.2 1687.0 1227.8C1680.7 1226.4 1673.0 1222.4 1666.0 1218.4C1659.0 1214.4 1652.0 1209.7 1645.0 1203.7C1638.0 1197.8 1630.7 1190.4 1624.0 1182.7C1617.3 1175.0 1611.0 1167.0 1605.1 1157.5C1599.1 1148.0 1593.0 1136.5 1588.3 1126.0C1583.6 1115.5 1579.8 1105.0 1576.7 1094.5C1573.6 1084.0 1571.3 1073.5 1569.4 1063.0C1567.5 1052.5 1566.3 1038.7 1565.2 1031.5C1564.1 1024.3 1563.0 1025.2 1562.8 1020.0C1562.6 1014.8 1563.3 1006.8 1564.2 1000.0C1565.1 993.2 1566.3 986.5 1568.4 979.0C1570.5 971.5 1573.5 962.9 1576.8 955.2C1580.1 947.5 1584.0 938.2 1588.0 932.8C1592.0 927.4 1599.1 926.5 1600.6 923.0C1602.1 919.5 1597.8 915.8 1597.0 912.0C1596.2 908.2 1595.4 904.5 1595.5 900.0C1595.6 895.5 1596.2 889.7 1597.5 885.0C1598.8 880.3 1600.6 876.5 1603.0 872.0C1605.4 867.5 1608.8 862.7 1612.0 858.0C1615.2 853.3 1618.7 848.5 1622.0 844.0C1625.3 839.5 1628.2 835.0 1632.0 831.0C1635.8 827.0 1640.3 822.9 1645.0 820.0C1649.7 817.1 1654.2 815.2 1660.0 813.5C1665.8 811.8 1673.3 810.9 1680.0 810.0C1686.7 809.1 1693.3 808.5 1700.0 808.2C1706.7 807.9 1714.5 807.8 1720.0 808.0C1725.5 808.2 1730.0 808.3 1733.0 809.5C1736.0 810.7 1736.5 815.1 1738.2 815.0Z" fill="#4e4e4e" stroke="#777" stroke-width="1.2" filter="url(#b05)"/>
<g clip-path="url(#clip3)">
<ellipse cx="1735" cy="992" rx="76" ry="62" fill="#3b3b3b" filter="url(#b3)"/>
<path d="M1738.2 815.0C1739.9 814.9 1739.4 810.1 1743.0 809.0C1746.6 807.9 1754.5 808.2 1760.0 808.2C1765.5 808.2 1770.7 808.2 1776.0 809.0C1781.3 809.8 1786.3 811.3 1792.0 813.0C1797.7 814.7 1804.5 817.2 1810.0 819.0C1815.5 820.8 1820.3 821.8 1825.0 824.0C1829.7 826.2 1833.8 828.5 1838.0 832.0C1842.2 835.5 1846.3 840.3 1850.0 845.0C1853.7 849.7 1856.8 855.0 1860.0 860.0C1863.2 865.0 1866.5 870.5 1869.0 875.0C1871.5 879.5 1873.6 882.8 1875.0 887.0C1876.4 891.2 1877.2 896.2 1877.5 900.0C1877.8 903.8 1877.3 906.3 1877.0 910.0C1876.7 913.7 1874.3 918.1 1875.5 922.0C1876.7 925.9 1881.6 929.0 1884.4 933.1C1887.2 937.2 1890.0 941.2 1892.5 946.6C1895.0 952.0 1897.5 958.8 1899.3 965.5C1901.1 972.3 1902.3 981.4 1903.3 987.1C1904.3 992.9 1905.1 995.1 1905.4 1000.0C1905.7 1004.9 1905.8 1009.1 1905.4 1016.8C1905.1 1024.5 1904.7 1036.0 1903.3 1046.2C1901.9 1056.4 1899.8 1067.2 1897.0 1077.7C1894.2 1088.2 1890.7 1098.7 1886.5 1109.2C1882.3 1119.7 1877.0 1130.9 1871.8 1140.7C1866.5 1150.5 1861.3 1159.2 1855.0 1168.0C1848.7 1176.8 1841.7 1185.5 1834.0 1193.2C1826.3 1200.9 1817.2 1208.4 1808.8 1214.2C1800.4 1220.0 1791.3 1224.8 1783.6 1227.8C1775.9 1230.8 1768.9 1231.8 1762.6 1232.0C1756.3 1232.2 1750.3 1231.2 1745.8 1228.9C1741.2 1226.6 1738.4 1222.1 1735.3 1218.4C1732.2 1214.7 1729.7 1206.8 1726.9 1206.5C1724.1 1206.2 1722.3 1212.9 1718.5 1216.3C1714.7 1219.7 1709.0 1224.9 1703.8 1226.8C1698.5 1228.7 1693.3 1229.2 1687.0 1227.8C1680.7 1226.4 1673.0 1222.4 1666.0 1218.4C1659.0 1214.4 1652.0 1209.7 1645.0 1203.7C1638.0 1197.8 1630.7 1190.4 1624.0 1182.7C1617.3 1175.0 1611.0 1167.0 1605.1 1157.5C1599.1 1148.0 1593.0 1136.5 1588.3 1126.0C1583.6 1115.5 1579.8 1105.0 1576.7 1094.5C1573.6 1084.0 1571.3 1073.5 1569.4 1063.0C1567.5 1052.5 1566.3 1038.7 1565.2 1031.5C1564.1 1024.3 1563.0 1025.2 1562.8 1020.0C1562.6 1014.8 1563.3 1006.8 1564.2 1000.0C1565.1 993.2 1566.3 986.5 1568.4 979.0C1570.5 971.5 1573.5 962.9 1576.8 955.2C1580.1 947.5 1584.0 938.2 1588.0 932.8C1592.0 927.4 1599.1 926.5 1600.6 923.0C1602.1 919.5 1597.8 915.8 1597.0 912.0C1596.2 908.2 1595.4 904.5 1595.5 900.0C1595.6 895.5 1596.2 889.7 1597.5 885.0C1598.8 880.3 1600.6 876.5 1603.0 872.0C1605.4 867.5 1608.8 862.7 1612.0 858.0C1615.2 853.3 1618.7 848.5 1622.0 844.0C1625.3 839.5 1628.2 835.0 1632.0 831.0C1635.8 827.0 1640.3 822.9 1645.0 820.0C1649.7 817.1 1654.2 815.2 1660.0 813.5C1665.8 811.8 1673.3 810.9 1680.0 810.0C1686.7 809.1 1693.3 808.5 1700.0 808.2C1706.7 807.9 1714.5 807.8 1720.0 808.0C1725.5 808.2 1730.0 808.3 1733.0 809.5C1736.0 810.7 1736.5 815.1 1738.2 815.0Z" fill="none" stroke="#3a3a3a" stroke-width="49" stroke-linejoin="round" filter="url(#b3)"/>
<path d="M1738.2 815.0C1739.9 814.9 1739.4 810.1 1743.0 809.0C1746.6 807.9 1754.5 808.2 1760.0 808.2C1765.5 808.2 1770.7 808.2 1776.0 809.0C1781.3 809.8 1786.3 811.3 1792.0 813.0C1797.7 814.7 1804.5 817.2 1810.0 819.0C1815.5 820.8 1820.3 821.8 1825.0 824.0C1829.7 826.2 1833.8 828.5 1838.0 832.0C1842.2 835.5 1846.3 840.3 1850.0 845.0C1853.7 849.7 1856.8 855.0 1860.0 860.0C1863.2 865.0 1866.5 870.5 1869.0 875.0C1871.5 879.5 1873.6 882.8 1875.0 887.0C1876.4 891.2 1877.2 896.2 1877.5 900.0C1877.8 903.8 1877.3 906.3 1877.0 910.0C1876.7 913.7 1874.3 918.1 1875.5 922.0C1876.7 925.9 1881.6 929.0 1884.4 933.1C1887.2 937.2 1890.0 941.2 1892.5 946.6C1895.0 952.0 1897.5 958.8 1899.3 965.5C1901.1 972.3 1902.3 981.4 1903.3 987.1C1904.3 992.9 1905.1 995.1 1905.4 1000.0C1905.7 1004.9 1905.8 1009.1 1905.4 1016.8C1905.1 1024.5 1904.7 1036.0 1903.3 1046.2C1901.9 1056.4 1899.8 1067.2 1897.0 1077.7C1894.2 1088.2 1890.7 1098.7 1886.5 1109.2C1882.3 1119.7 1877.0 1130.9 1871.8 1140.7C1866.5 1150.5 1861.3 1159.2 1855.0 1168.0C1848.7 1176.8 1841.7 1185.5 1834.0 1193.2C1826.3 1200.9 1817.2 1208.4 1808.8 1214.2C1800.4 1220.0 1791.3 1224.8 1783.6 1227.8C1775.9 1230.8 1768.9 1231.8 1762.6 1232.0C1756.3 1232.2 1750.3 1231.2 1745.8 1228.9C1741.2 1226.6 1738.4 1222.1 1735.3 1218.4C1732.2 1214.7 1729.7 1206.8 1726.9 1206.5C1724.1 1206.2 1722.3 1212.9 1718.5 1216.3C1714.7 1219.7 1709.0 1224.9 1703.8 1226.8C1698.5 1228.7 1693.3 1229.2 1687.0 1227.8C1680.7 1226.4 1673.0 1222.4 1666.0 1218.4C1659.0 1214.4 1652.0 1209.7 1645.0 1203.7C1638.0 1197.8 1630.7 1190.4 1624.0 1182.7C1617.3 1175.0 1611.0 1167.0 1605.1 1157.5C1599.1 1148.0 1593.0 1136.5 1588.3 1126.0C1583.6 1115.5 1579.8 1105.0 1576.7 1094.5C1573.6 1084.0 1571.3 1073.5 1569.4 1063.0C1567.5 1052.5 1566.3 1038.7 1565.2 1031.5C1564.1 1024.3 1563.0 1025.2 1562.8 1020.0C1562.6 1014.8 1563.3 1006.8 1564.2 1000.0C1565.1 993.2 1566.3 986.5 1568.4 979.0C1570.5 971.5 1573.5 962.9 1576.8 955.2C1580.1 947.5 1584.0 938.2 1588.0 932.8C1592.0 927.4 1599.1 926.5 1600.6 923.0C1602.1 919.5 1597.8 915.8 1597.0 912.0C1596.2 908.2 1595.4 904.5 1595.5 900.0C1595.6 895.5 1596.2 889.7 1597.5 885.0C1598.8 880.3 1600.6 876.5 1603.0 872.0C1605.4 867.5 1608.8 862.7 1612.0 858.0C1615.2 853.3 1618.7 848.5 1622.0 844.0C1625.3 839.5 1628.2 835.0 1632.0 831.0C1635.8 827.0 1640.3 822.9 1645.0 820.0C1649.7 817.1 1654.2 815.2 1660.0 813.5C1665.8 811.8 1673.3 810.9 1680.0 810.0C1686.7 809.1 1693.3 808.5 1700.0 808.2C1706.7 807.9 1714.5 807.8 1720.0 808.0C1725.5 808.2 1730.0 808.3 1733.0 809.5C1736.0 810.7 1736.5 815.1 1738.2 815.0Z" fill="none" stroke="#2b2b2b" stroke-width="23" stroke-linejoin="round" filter="url(#b2)"/>
<g fill="none" stroke="#2b2b2b" stroke-linecap="round" stroke-linejoin="round" filter="url(#b2)">
<path d="M1740.0 818.4C1739.7 827.1 1739.2 855.5 1738.6 871.0C1738.0 886.5 1737.1 899.8 1736.4 911.5C1735.8 923.2 1734.9 936.3 1734.6 941.2" stroke-width="12.0"/>
<path d="M1671.1 819.7C1671.3 822.4 1672.7 830.5 1672.5 835.9C1672.2 841.3 1670.2 849.4 1669.8 852.1" stroke-width="11.0"/>
<path d="M1808.8 819.7C1808.6 822.4 1807.2 830.5 1807.5 835.9C1807.7 841.3 1809.7 849.4 1810.2 852.1" stroke-width="11.0"/>
<path d="M1630.6 844.0C1632.4 846.3 1637.4 853.9 1641.4 857.5C1645.5 861.1 1652.7 864.3 1654.9 865.6" stroke-width="11.0"/>
<path d="M1849.3 844.0C1847.5 846.3 1842.6 853.9 1838.5 857.5C1834.5 861.1 1827.3 864.3 1825.0 865.6" stroke-width="11.0"/>
<path d="M1706.2 857.5C1707.6 860.7 1711.2 871.9 1714.3 876.4C1717.5 880.9 1723.3 883.2 1725.1 884.5" stroke-width="11.0"/>
<path d="M1768.3 857.5C1767.0 860.7 1763.4 871.9 1760.2 876.4C1757.1 880.9 1751.2 883.2 1749.4 884.5" stroke-width="11.0"/>
<path d="M1606.3 925.0C1609.5 925.5 1618.5 926.8 1625.2 927.7C1632.0 928.6 1641.4 928.2 1646.8 930.4C1652.2 932.7 1655.8 939.4 1657.6 941.2" stroke-width="16.0"/>
<path d="M1872.3 925.0C1869.3 925.5 1861.2 926.8 1854.7 927.7C1848.2 928.6 1838.5 928.2 1833.1 930.4C1827.7 932.7 1824.1 939.4 1822.3 941.2" stroke-width="16.0"/>
<path d="M1625.2 941.2C1625.7 944.8 1626.6 955.6 1627.9 962.8C1629.3 970.0 1630.6 978.1 1633.3 984.4C1636.0 990.7 1642.3 997.9 1644.1 1000.6" stroke-width="13.0"/>
<path d="M1852.0 941.2C1851.6 944.8 1850.7 955.6 1849.3 962.8C1848.0 970.0 1846.6 978.1 1843.9 984.4C1841.2 990.7 1834.9 997.9 1833.1 1000.6" stroke-width="13.0"/>
<path d="M1582.0 965.5C1584.7 967.8 1593.7 972.7 1598.2 979.0C1602.7 985.3 1606.8 996.1 1609.0 1003.3C1611.3 1010.5 1611.3 1019.1 1611.7 1022.2" stroke-width="12.0"/>
<path d="M1892.5 965.5C1889.8 967.8 1880.8 972.7 1876.3 979.0C1871.8 985.3 1867.8 996.1 1865.5 1003.3C1863.3 1010.5 1863.3 1019.1 1862.8 1022.2" stroke-width="12.0"/>
<path d="M1571.2 1033.0C1573.9 1033.9 1582.0 1035.7 1587.4 1038.4C1592.8 1041.1 1600.9 1047.4 1603.6 1049.2" stroke-width="12.0"/>
<path d="M1903.3 1033.0C1900.6 1033.9 1892.5 1035.7 1887.1 1038.4C1881.7 1041.1 1873.6 1047.4 1870.9 1049.2" stroke-width="12.0"/>
<path d="M1573.9 1073.5C1577.1 1073.5 1587.0 1072.2 1592.8 1073.5C1598.7 1074.9 1606.3 1080.3 1609.0 1081.6" stroke-width="12.0"/>
<path d="M1900.6 1073.5C1897.5 1073.5 1887.6 1072.2 1881.7 1073.5C1875.9 1074.9 1868.2 1080.3 1865.5 1081.6" stroke-width="12.0"/>
<path d="M1706.2 1014.1C1710.7 1015.5 1724.2 1022.2 1733.2 1022.2C1742.2 1022.2 1755.7 1015.5 1760.2 1014.1" stroke-width="34.0"/>
<path d="M1717.0 1046.5C1719.7 1048.3 1727.8 1057.3 1733.2 1057.3C1738.6 1057.3 1746.7 1048.3 1749.4 1046.5" stroke-width="30.0"/>
<path d="M1727.0 1150.0C1727.0 1155.0 1727.0 1170.7 1727.0 1180.0C1727.0 1189.3 1727.0 1201.7 1727.0 1206.0" stroke-width="12.0"/>
<path d="M1590.0 1110.0C1593.7 1109.2 1605.3 1104.2 1612.0 1105.0C1618.7 1105.8 1627.0 1113.3 1630.0 1115.0" stroke-width="12.0"/>
<path d="M1880.0 1110.0C1876.3 1109.2 1864.7 1104.2 1858.0 1105.0C1851.3 1105.8 1843.0 1113.3 1840.0 1115.0" stroke-width="12.0"/>
<path d="M1625.0 1170.0C1627.8 1168.0 1636.5 1158.8 1642.0 1158.0C1647.5 1157.2 1655.3 1163.8 1658.0 1165.0" stroke-width="12.0"/>
<path d="M1845.0 1165.0C1842.2 1163.0 1833.5 1153.8 1828.0 1153.0C1822.5 1152.2 1814.7 1158.8 1812.0 1160.0" stroke-width="12.0"/>
<path d="M1660.0 1100.0C1662.0 1103.3 1667.0 1114.2 1672.0 1120.0C1677.0 1125.8 1685.3 1128.3 1690.0 1135.0C1694.7 1141.7 1698.3 1155.8 1700.0 1160.0" stroke-width="12.0"/>
<path d="M1800.0 1100.0C1798.0 1103.3 1793.0 1114.2 1788.0 1120.0C1783.0 1125.8 1774.7 1128.3 1770.0 1135.0C1765.3 1141.7 1761.7 1155.8 1760.0 1160.0" stroke-width="12.0"/>
<path d="M1670.0 1190.0C1673.3 1188.3 1684.2 1179.2 1690.0 1180.0C1695.8 1180.8 1702.5 1192.5 1705.0 1195.0" stroke-width="12.0"/>
<path d="M1790.0 1195.0C1786.7 1193.3 1775.8 1184.2 1770.0 1185.0C1764.2 1185.8 1757.5 1197.5 1755.0 1200.0" stroke-width="12.0"/>
</g>
<g fill="none" stroke-linecap="round" stroke-linejoin="round" filter="url(#b1)">
<path d="M1740.0 818.4C1739.7 827.1 1739.2 855.5 1738.6 871.0C1738.0 886.5 1737.1 900.7 1736.4 911.5C1735.8 922.3 1735.1 931.8 1734.8 935.8" stroke="#8a8a8a" stroke-width="2.2"/>
<path d="M1733.2 965.5C1733.2 968.7 1733.2 978.1 1733.2 984.4C1733.2 990.7 1733.2 1000.2 1733.2 1003.3" stroke="#c0c0c0" stroke-width="2.5"/>
<path d="M1601.0 932.0C1602.8 932.8 1608.7 935.2 1612.0 937.0C1615.3 938.8 1619.1 938.8 1621.0 943.0C1622.9 947.2 1622.2 956.0 1623.5 962.0C1624.8 968.0 1627.7 976.2 1628.5 979.0" stroke="#b4b4b4" stroke-width="6.0"/>
<path d="M1875.0 934.0C1872.8 934.7 1866.2 936.5 1862.0 938.0C1857.8 939.5 1852.6 939.0 1850.0 943.0C1847.4 947.0 1847.8 955.8 1846.5 962.0C1845.2 968.2 1842.8 977.0 1842.0 980.0" stroke="#b4b4b4" stroke-width="6.0"/>
<path d="M1640.0 1060.0C1641.3 1061.7 1644.7 1067.5 1648.0 1070.0C1651.3 1072.5 1658.0 1074.2 1660.0 1075.0" stroke="#a8a8a8" stroke-width="3.0"/>
<path d="M1815.0 1060.0C1813.8 1062.0 1811.3 1069.0 1808.0 1072.0C1804.7 1075.0 1797.2 1077.0 1795.0 1078.0" stroke="#a8a8a8" stroke-width="3.0"/>
</g>
<ellipse cx="1734.5" cy="943" rx="4.5" ry="7" fill="#6a6a6a" filter="url(#b1)"/>
<ellipse cx="1734.5" cy="942.5" rx="1.8" ry="4" fill="#1a1a1a" filter="url(#b05)"/>
<path d="M1706 1028 L1762 1028 L1760 1058 L1748 1070 L1720 1070 L1708 1058 Z" fill="#2a2a2a" filter="url(#b2)"/>
<path d="M1670 1040 C1682 1044 1696 1054 1706 1070 C1710 1078 1712 1090 1714 1104 C1718 1124 1726 1136 1733 1141 C1740 1136 1748 1124 1752 1104 C1754 1090 1756 1078 1760 1070 C1770 1054 1782 1046 1792 1044" fill="none" stroke="#e4e4e4" stroke-width="5.5" stroke-linecap="round" stroke-linejoin="round" filter="url(#b05)"/>
<path d="M1712 1076 L1756 1076 L1752 1098 L1714 1098 Z" fill="#e8e8e8" filter="url(#b1)"/>
<path d="M1716 1098 L1750 1098 L1746 1120 L1733 1136 L1720 1120 Z" fill="#9a9a9a" filter="url(#b1)"/>
<path d="M1720 1106 L1746 1106 M1722 1116 L1744 1116 M1726 1126 L1740 1126" stroke="#555" stroke-width="2.5" fill="none" filter="url(#b05)"/>
<rect x="1731" y="1055" width="4.5" height="4.5" fill="#e8e8e8"/>
<path d="M1725 1143 L1737 1143 L1731 1160 Z" fill="#000" filter="url(#b05)"/>
<path d="M1703.0 840.8L1694.1 857.5L1690.5 879.1L1692.7 898.0L1700.8 911.5L1710.3 922.3" fill="none" stroke="#2a46b4" stroke-width="8" stroke-linecap="butt" stroke-linejoin="round"/>
<path d="M1691.1 887.2L1693.2 899.4L1700.8 911.0L1708.9 920.1" fill="none" stroke="#3a84dc" stroke-width="3.6" stroke-linecap="butt" stroke-linejoin="round"/>
<path d="M1770.5 844.8L1777.8 860.2L1781.3 879.1L1779.1 898.0L1771.0 911.5L1762.4 921.5" fill="none" stroke="#2a46b4" stroke-width="8" stroke-linecap="butt" stroke-linejoin="round"/>
<path d="M1780.7 887.2L1778.6 899.4L1771.0 911.0L1763.4 920.1" fill="none" stroke="#3a84dc" stroke-width="3.6" stroke-linecap="butt" stroke-linejoin="round"/>
<path d="M1668.0 887.0L1672.0 887.0L1680.0 898.0L1683.0 916.0L1681.5 928.0L1680.0 934.0L1676.5 946.0L1670.5 958.0L1667.0 970.0L1662.0 982.0L1653.6 994.0L1650.0 996.6L1644.6 996.6L1644.6 982.0L1645.0 970.0L1650.0 958.0L1659.7 946.0L1668.0 934.0L1671.7 916.0L1668.0 898.0Z" fill="#ee3a14"/>
<path d="M1676.0 922.0L1678.0 936.0L1673.0 948.0L1667.0 960.0L1663.0 972.0L1658.0 984.0L1651.0 991.0L1647.0 990.0L1647.0 974.0L1652.0 960.0L1661.0 949.0L1669.0 938.0L1673.0 928.0Z" fill="#f47c18" filter="url(#b05)"/>
<path d="M1665.0 946.0L1667.0 956.0L1664.0 968.0L1660.0 981.0L1653.0 989.0L1648.0 987.0L1648.0 972.0L1652.0 960.0L1658.0 951.0Z" fill="#f8c81c" filter="url(#b05)"/>
<path d="M1661.0 952.0L1663.0 958.0L1661.0 968.0L1658.0 979.0L1653.0 985.0L1650.0 983.0L1650.0 972.0L1654.0 961.0L1658.0 955.0Z" fill="#f2e626" filter="url(#b05)"/>
<path d="M1798.0 900.0L1804.0 900.0L1803.0 910.0L1800.0 916.0L1797.0 928.0L1799.0 934.0L1801.5 938.0L1807.5 946.0L1816.0 952.0L1823.0 958.0L1828.0 970.0L1828.0 982.0L1823.0 994.0L1821.0 997.0L1815.0 997.0L1813.0 990.0L1807.5 982.0L1805.0 970.0L1801.5 958.0L1796.7 946.0L1792.0 938.0L1788.3 928.0L1790.0 916.0L1793.0 910.0Z" fill="#ee3a14"/>
<path d="M1803.0 944.0L1812.0 952.0L1820.0 959.0L1825.0 970.0L1825.0 982.0L1821.0 992.0L1817.0 992.0L1813.0 984.0L1809.0 972.0L1806.0 960.0L1802.0 950.0Z" fill="#f47c18" filter="url(#b05)"/>
<path d="M1812.0 958.0L1819.0 964.0L1822.0 974.0L1821.0 984.0L1817.0 987.0L1814.0 978.0L1811.0 968.0Z" fill="#f8b81c" filter="url(#b05)"/>
<path d="M1802.0 884.0L1804.0 884.0L1804.0 898.0L1798.0 900.0L1793.0 912.0L1788.5 926.0L1787.0 934.0L1784.0 934.0L1784.0 920.0L1788.0 905.0L1793.0 893.0L1798.0 888.0Z" fill="#0f7a1c"/>
<path d="M1676.0 887.7L1679.7 887.7L1682.4 900.7L1678.7 898.0Z" fill="#0f6a1c"/>
<path d="M1757.5 1002.0L1765.1 1000.6L1765.1 1004.7L1758.9 1006.5Z" fill="#0f6a1c"/>
<path d="M1680.6 1012.8L1688.7 1008.7L1694.1 1014.1L1695.4 1022.2L1700.8 1030.3L1706.2 1038.4L1703.5 1046.0L1698.1 1043.8L1691.4 1033.0L1686.0 1027.6L1680.6 1023.6Z" fill="#f58a8c"/>
<path d="M1683.3 1015.5L1688.7 1014.1L1690.8 1019.5L1688.7 1024.4L1684.1 1022.2Z" fill="#fff"/>
<path d="M1776.9 1012.8L1783.2 1011.9L1788.6 1019.5L1788.6 1030.3L1776.9 1030.3Z" fill="#f58a8c"/>
<path d="M1779.1 1018.2L1784.5 1016.8L1786.7 1023.6L1783.2 1027.6L1779.1 1025.4Z" fill="#fff"/>
<path d="M1738.2 815.0C1739.9 814.9 1739.4 810.1 1743.0 809.0C1746.6 807.9 1754.5 808.2 1760.0 808.2C1765.5 808.2 1770.7 808.2 1776.0 809.0C1781.3 809.8 1786.3 811.3 1792.0 813.0C1797.7 814.7 1804.5 817.2 1810.0 819.0C1815.5 820.8 1820.3 821.8 1825.0 824.0C1829.7 826.2 1833.8 828.5 1838.0 832.0C1842.2 835.5 1846.3 840.3 1850.0 845.0C1853.7 849.7 1856.8 855.0 1860.0 860.0C1863.2 865.0 1866.5 870.5 1869.0 875.0C1871.5 879.5 1873.6 882.8 1875.0 887.0C1876.4 891.2 1877.2 896.2 1877.5 900.0C1877.8 903.8 1877.3 906.3 1877.0 910.0C1876.7 913.7 1874.3 918.1 1875.5 922.0C1876.7 925.9 1881.6 929.0 1884.4 933.1C1887.2 937.2 1890.0 941.2 1892.5 946.6C1895.0 952.0 1897.5 958.8 1899.3 965.5C1901.1 972.3 1902.3 981.4 1903.3 987.1C1904.3 992.9 1905.1 995.1 1905.4 1000.0C1905.7 1004.9 1905.8 1009.1 1905.4 1016.8C1905.1 1024.5 1904.7 1036.0 1903.3 1046.2C1901.9 1056.4 1899.8 1067.2 1897.0 1077.7C1894.2 1088.2 1890.7 1098.7 1886.5 1109.2C1882.3 1119.7 1877.0 1130.9 1871.8 1140.7C1866.5 1150.5 1861.3 1159.2 1855.0 1168.0C1848.7 1176.8 1841.7 1185.5 1834.0 1193.2C1826.3 1200.9 1817.2 1208.4 1808.8 1214.2C1800.4 1220.0 1791.3 1224.8 1783.6 1227.8C1775.9 1230.8 1768.9 1231.8 1762.6 1232.0C1756.3 1232.2 1750.3 1231.2 1745.8 1228.9C1741.2 1226.6 1738.4 1222.1 1735.3 1218.4C1732.2 1214.7 1729.7 1206.8 1726.9 1206.5C1724.1 1206.2 1722.3 1212.9 1718.5 1216.3C1714.7 1219.7 1709.0 1224.9 1703.8 1226.8C1698.5 1228.7 1693.3 1229.2 1687.0 1227.8C1680.7 1226.4 1673.0 1222.4 1666.0 1218.4C1659.0 1214.4 1652.0 1209.7 1645.0 1203.7C1638.0 1197.8 1630.7 1190.4 1624.0 1182.7C1617.3 1175.0 1611.0 1167.0 1605.1 1157.5C1599.1 1148.0 1593.0 1136.5 1588.3 1126.0C1583.6 1115.5 1579.8 1105.0 1576.7 1094.5C1573.6 1084.0 1571.3 1073.5 1569.4 1063.0C1567.5 1052.5 1566.3 1038.7 1565.2 1031.5C1564.1 1024.3 1563.0 1025.2 1562.8 1020.0C1562.6 1014.8 1563.3 1006.8 1564.2 1000.0C1565.1 993.2 1566.3 986.5 1568.4 979.0C1570.5 971.5 1573.5 962.9 1576.8 955.2C1580.1 947.5 1584.0 938.2 1588.0 932.8C1592.0 927.4 1599.1 926.5 1600.6 923.0C1602.1 919.5 1597.8 915.8 1597.0 912.0C1596.2 908.2 1595.4 904.5 1595.5 900.0C1595.6 895.5 1596.2 889.7 1597.5 885.0C1598.8 880.3 1600.6 876.5 1603.0 872.0C1605.4 867.5 1608.8 862.7 1612.0 858.0C1615.2 853.3 1618.7 848.5 1622.0 844.0C1625.3 839.5 1628.2 835.0 1632.0 831.0C1635.8 827.0 1640.3 822.9 1645.0 820.0C1649.7 817.1 1654.2 815.2 1660.0 813.5C1665.8 811.8 1673.3 810.9 1680.0 810.0C1686.7 809.1 1693.3 808.5 1700.0 808.2C1706.7 807.9 1714.5 807.8 1720.0 808.0C1725.5 808.2 1730.0 808.3 1733.0 809.5C1736.0 810.7 1736.5 815.1 1738.2 815.0Z" fill="none" stroke="#8c8c8c" stroke-width="7.0" filter="url(#b1)"/>
</g>
<path d="M1513.1 917.4L1653.1 955.7" stroke="url(#ag5)" stroke-width="4.0" fill="none"/>
<path d="M1641.2 944.7L1653.1 955.7L1636.3 962.9" stroke="#fff" stroke-width="4.0" fill="none" stroke-linejoin="miter" stroke-miterlimit="10" stroke-linecap="butt"/>
<text class="an" transform="translate(1442.0 924.6) scale(1.005 1.040)">unc</text>
</g>
</svg>
</body></html>
